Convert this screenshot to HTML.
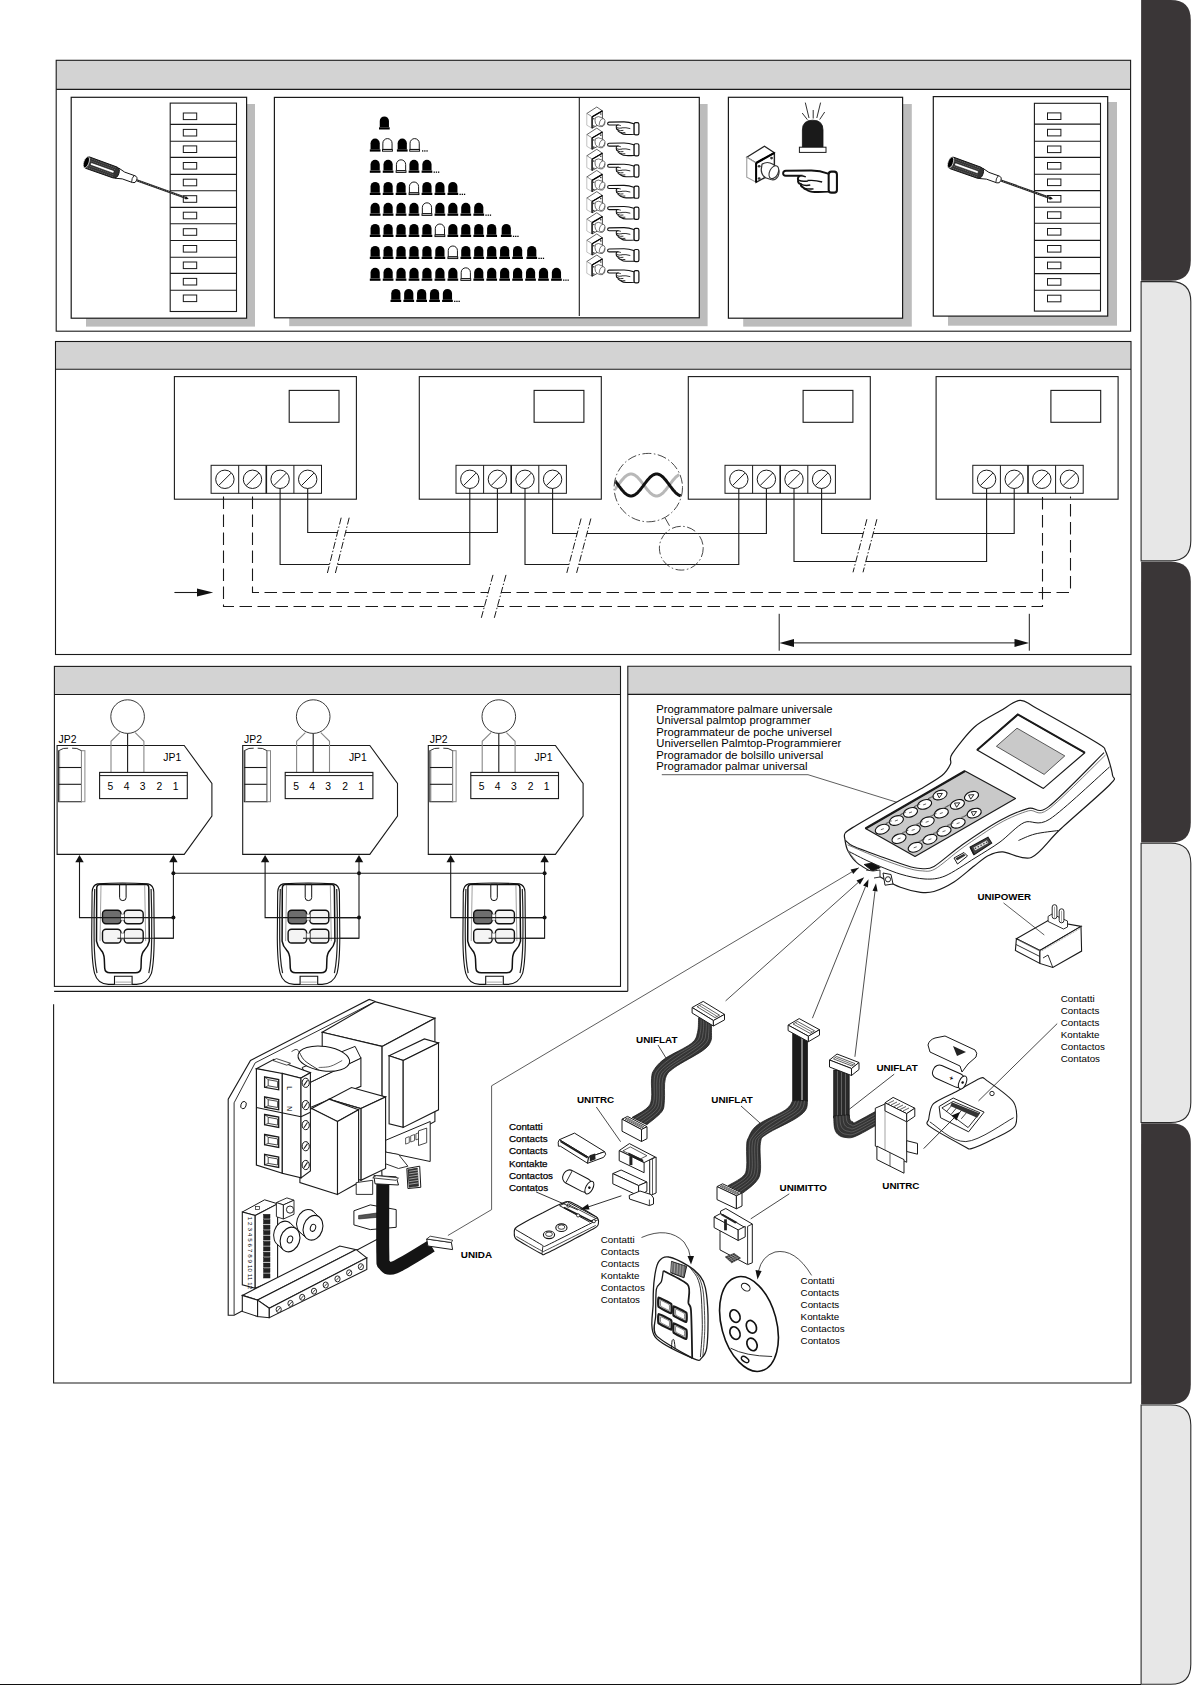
<!DOCTYPE html>
<html><head><meta charset="utf-8"><style>
html,body{margin:0;padding:0;background:#fff;}
body{width:1192px;height:1685px;overflow:hidden;}
svg{display:block;font-family:"Liberation Sans",sans-serif;}
</style></head><body>
<svg width="1192" height="1685" viewBox="0 0 1192 1685">
<path d="M1141.1,0.0 H1170.8 Q1190.8,0.0 1190.8,20.0 V260.8333333333333 Q1190.8,280.8333333333333 1170.8,280.8333333333333 H1141.1 Z" fill="#3a3637" stroke="none" stroke-width="1" />
<path d="M1141.1,281.6333333333333 H1170.8 Q1190.8,281.6333333333333 1190.8,301.6333333333333 V540.8666666666667 Q1190.8,560.8666666666667 1170.8,560.8666666666667 H1141.1 Z" fill="#e7e7e7" stroke="#2a2a2a" stroke-width="1.1" />
<path d="M1141.1,561.6666666666666 H1170.8 Q1190.8,561.6666666666666 1190.8,581.6666666666666 V822.5 Q1190.8,842.5 1170.8,842.5 H1141.1 Z" fill="#3a3637" stroke="none" stroke-width="1" />
<path d="M1141.1,843.3 H1170.8 Q1190.8,843.3 1190.8,863.3 V1102.5333333333333 Q1190.8,1122.5333333333333 1170.8,1122.5333333333333 H1141.1 Z" fill="#e7e7e7" stroke="#2a2a2a" stroke-width="1.1" />
<path d="M1141.1,1123.3333333333333 H1170.8 Q1190.8,1123.3333333333333 1190.8,1143.3333333333333 V1384.1666666666665 Q1190.8,1404.1666666666665 1170.8,1404.1666666666665 H1141.1 Z" fill="#3a3637" stroke="none" stroke-width="1" />
<path d="M1141.1,1404.9666666666665 H1170.8 Q1190.8,1404.9666666666665 1190.8,1424.9666666666665 V1664.1999999999998 Q1190.8,1684.1999999999998 1170.8,1684.1999999999998 H1141.1 Z" fill="#e7e7e7" stroke="#2a2a2a" stroke-width="1.1" />
<line x1="0.0" y1="1684.5" x2="1141.0" y2="1684.5" stroke="#111" stroke-width="1.2" />
<rect x="56.2" y="60.3" width="1074.4" height="29.1" fill="#d3d3d3" stroke="none" stroke-width="1" />
<rect x="56.2" y="60.3" width="1074.4" height="270.9" fill="none" stroke="#1a1a1a" stroke-width="1.1" />
<line x1="56.2" y1="89.4" x2="1130.6" y2="89.4" stroke="#1a1a1a" stroke-width="1.1" />
<rect x="55.5" y="341.5" width="1075.5" height="27.8" fill="#d3d3d3" stroke="none" stroke-width="1" />
<rect x="55.5" y="341.5" width="1075.5" height="313.0" fill="none" stroke="#1a1a1a" stroke-width="1.1" />
<line x1="55.5" y1="369.3" x2="1131.0" y2="369.3" stroke="#1a1a1a" stroke-width="1.1" />
<rect x="54.4" y="666.4" width="566.1" height="28.1" fill="#d3d3d3" stroke="none" stroke-width="1" />
<rect x="54.4" y="666.4" width="566.1" height="320.0" fill="none" stroke="#1a1a1a" stroke-width="1.1" />
<line x1="54.4" y1="694.5" x2="620.5" y2="694.5" stroke="#1a1a1a" stroke-width="1.1" />
<rect x="627.8" y="666.2" width="503.2" height="28.2" fill="#d3d3d3" stroke="none" stroke-width="1" />
<path d="M627.8,991.3 V666.2 H1131 V1383 H53.6 V1004.2" fill="none" stroke="#1a1a1a" stroke-width="1.1" />
<line x1="627.8" y1="694.4" x2="1131.0" y2="694.4" stroke="#1a1a1a" stroke-width="1.1" />
<line x1="54.1" y1="991.4" x2="627.8" y2="991.4" stroke="#1a1a1a" stroke-width="1.1" />
<rect x="86.0" y="104.0" width="169.0" height="222.6" fill="#bcbcbc" stroke="none" stroke-width="1" />
<rect x="71.2" y="97.3" width="175.4" height="220.9" fill="#fff" stroke="#1a1a1a" stroke-width="1.2" />
<rect x="289.2" y="104.0" width="418.4" height="222.2" fill="#bcbcbc" stroke="none" stroke-width="1" />
<rect x="274.4" y="97.4" width="424.9" height="220.4" fill="#fff" stroke="#1a1a1a" stroke-width="1.2" />
<rect x="743.2" y="104.0" width="168.6" height="222.6" fill="#bcbcbc" stroke="none" stroke-width="1" />
<rect x="728.4" y="97.3" width="174.2" height="220.9" fill="#fff" stroke="#1a1a1a" stroke-width="1.2" />
<rect x="948.0" y="102.0" width="169.0" height="223.7" fill="#bcbcbc" stroke="none" stroke-width="1" />
<rect x="933.3" y="96.6" width="174.4" height="219.5" fill="#fff" stroke="#1a1a1a" stroke-width="1.2" />
<line x1="579.3" y1="97.4" x2="579.3" y2="316.0" stroke="#1a1a1a" stroke-width="1.1" />
<rect x="170.2" y="103.1" width="66.3" height="208.4" fill="#fff" stroke="#1a1a1a" stroke-width="1.1" />
<line x1="170.2" y1="124.4" x2="236.5" y2="124.4" stroke="#1a1a1a" stroke-width="1.1" />
<line x1="170.2" y1="141.2" x2="236.5" y2="141.2" stroke="#1a1a1a" stroke-width="1.1" />
<line x1="170.2" y1="157.4" x2="236.5" y2="157.4" stroke="#1a1a1a" stroke-width="1.1" />
<line x1="170.2" y1="174.4" x2="236.5" y2="174.4" stroke="#1a1a1a" stroke-width="1.1" />
<line x1="170.2" y1="190.7" x2="236.5" y2="190.7" stroke="#1a1a1a" stroke-width="1.1" />
<line x1="170.2" y1="207.4" x2="236.5" y2="207.4" stroke="#1a1a1a" stroke-width="1.1" />
<line x1="170.2" y1="223.7" x2="236.5" y2="223.7" stroke="#1a1a1a" stroke-width="1.1" />
<line x1="170.2" y1="240.5" x2="236.5" y2="240.5" stroke="#1a1a1a" stroke-width="1.1" />
<line x1="170.2" y1="257.3" x2="236.5" y2="257.3" stroke="#1a1a1a" stroke-width="1.1" />
<line x1="170.2" y1="273.4" x2="236.5" y2="273.4" stroke="#1a1a1a" stroke-width="1.1" />
<line x1="170.2" y1="290.2" x2="236.5" y2="290.2" stroke="#1a1a1a" stroke-width="1.1" />
<rect x="183.3" y="113.0" width="13.4" height="6.6" fill="none" stroke="#1a1a1a" stroke-width="1" />
<rect x="183.3" y="129.4" width="13.4" height="6.6" fill="none" stroke="#1a1a1a" stroke-width="1" />
<rect x="183.3" y="145.9" width="13.4" height="6.6" fill="none" stroke="#1a1a1a" stroke-width="1" />
<rect x="183.3" y="162.5" width="13.4" height="6.6" fill="none" stroke="#1a1a1a" stroke-width="1" />
<rect x="183.3" y="179.2" width="13.4" height="6.6" fill="none" stroke="#1a1a1a" stroke-width="1" />
<rect x="183.3" y="195.7" width="13.4" height="6.6" fill="none" stroke="#1a1a1a" stroke-width="1" />
<rect x="183.3" y="212.2" width="13.4" height="6.6" fill="none" stroke="#1a1a1a" stroke-width="1" />
<rect x="183.3" y="228.7" width="13.4" height="6.6" fill="none" stroke="#1a1a1a" stroke-width="1" />
<rect x="183.3" y="245.5" width="13.4" height="6.6" fill="none" stroke="#1a1a1a" stroke-width="1" />
<rect x="183.3" y="262.0" width="13.4" height="6.6" fill="none" stroke="#1a1a1a" stroke-width="1" />
<rect x="183.3" y="278.4" width="13.4" height="6.6" fill="none" stroke="#1a1a1a" stroke-width="1" />
<rect x="183.3" y="295.0" width="13.4" height="6.6" fill="none" stroke="#1a1a1a" stroke-width="1" />
<rect x="1034.4" y="103.3" width="66.1" height="207.8" fill="#fff" stroke="#1a1a1a" stroke-width="1.1" />
<line x1="1034.4" y1="124.1" x2="1100.5" y2="124.1" stroke="#1a1a1a" stroke-width="1.1" />
<line x1="1034.4" y1="141.3" x2="1100.5" y2="141.3" stroke="#1a1a1a" stroke-width="1.1" />
<line x1="1034.4" y1="157.4" x2="1100.5" y2="157.4" stroke="#1a1a1a" stroke-width="1.1" />
<line x1="1034.4" y1="174.3" x2="1100.5" y2="174.3" stroke="#1a1a1a" stroke-width="1.1" />
<line x1="1034.4" y1="190.6" x2="1100.5" y2="190.6" stroke="#1a1a1a" stroke-width="1.1" />
<line x1="1034.4" y1="207.2" x2="1100.5" y2="207.2" stroke="#1a1a1a" stroke-width="1.1" />
<line x1="1034.4" y1="223.3" x2="1100.5" y2="223.3" stroke="#1a1a1a" stroke-width="1.1" />
<line x1="1034.4" y1="240.4" x2="1100.5" y2="240.4" stroke="#1a1a1a" stroke-width="1.1" />
<line x1="1034.4" y1="257.4" x2="1100.5" y2="257.4" stroke="#1a1a1a" stroke-width="1.1" />
<line x1="1034.4" y1="273.6" x2="1100.5" y2="273.6" stroke="#1a1a1a" stroke-width="1.1" />
<line x1="1034.4" y1="290.3" x2="1100.5" y2="290.3" stroke="#1a1a1a" stroke-width="1.1" />
<rect x="1047.5" y="112.9" width="13.4" height="6.6" fill="none" stroke="#1a1a1a" stroke-width="1" />
<rect x="1047.5" y="129.3" width="13.4" height="6.6" fill="none" stroke="#1a1a1a" stroke-width="1" />
<rect x="1047.5" y="146.0" width="13.4" height="6.6" fill="none" stroke="#1a1a1a" stroke-width="1" />
<rect x="1047.5" y="162.5" width="13.4" height="6.6" fill="none" stroke="#1a1a1a" stroke-width="1" />
<rect x="1047.5" y="179.0" width="13.4" height="6.6" fill="none" stroke="#1a1a1a" stroke-width="1" />
<rect x="1047.5" y="195.5" width="13.4" height="6.6" fill="none" stroke="#1a1a1a" stroke-width="1" />
<rect x="1047.5" y="211.8" width="13.4" height="6.6" fill="none" stroke="#1a1a1a" stroke-width="1" />
<rect x="1047.5" y="228.5" width="13.4" height="6.6" fill="none" stroke="#1a1a1a" stroke-width="1" />
<rect x="1047.5" y="245.5" width="13.4" height="6.6" fill="none" stroke="#1a1a1a" stroke-width="1" />
<rect x="1047.5" y="262.1" width="13.4" height="6.6" fill="none" stroke="#1a1a1a" stroke-width="1" />
<rect x="1047.5" y="278.6" width="13.4" height="6.6" fill="none" stroke="#1a1a1a" stroke-width="1" />
<rect x="1047.5" y="295.2" width="13.4" height="6.6" fill="none" stroke="#1a1a1a" stroke-width="1" />
<g transform="translate(85.8,162.0) rotate(19.71)"><line x1="54" y1="0" x2="107.4" y2="0" stroke="#222" stroke-width="2.3"/><line x1="54" y1="0" x2="107.4" y2="0" stroke="#999" stroke-width="0.7" stroke-dasharray="1 1.4"/><path d="M105.9,-1.6 L109.4,0 L105.9,1.6Z" fill="#111"/><path d="M33,-5.4 L40,-3.6 L51,-3.6 Q54,-3.6 54,0 Q54,3.6 51,3.6 L40,3.6 L33,5.4Z" fill="#fff" stroke="#111" stroke-width="0.9"/><path d="M50,-3.6 Q48.5,0 50,3.6" fill="none" stroke="#111" stroke-width="0.8"/><path d="M2,-6 L31,-5.8 Q35,-5.6 35,0 Q35,5.6 31,5.8 L2,6 Q-1.5,6 -1.5,0 Q-1.5,-6 2,-6Z" fill="#333" stroke="#111" stroke-width="0.9"/><path d="M3,-4.8 L31,-4.6 M3,4.8 L31,4.6 M3,-2.6 H31 M3,2.6 H31" stroke="#888" stroke-width="0.5" stroke-dasharray="1.2 0.8"/><rect x="5" y="-1.3" width="25" height="2.6" rx="1.3" fill="#fff" stroke="#111" stroke-width="0.5"/><ellipse cx="0.6" cy="0" rx="2.6" ry="5.8" fill="#000" stroke="#fff" stroke-width="0.7"/></g>
<g transform="translate(950.0,162.3) rotate(19.66)"><line x1="54" y1="0" x2="107.4" y2="0" stroke="#222" stroke-width="2.3"/><line x1="54" y1="0" x2="107.4" y2="0" stroke="#999" stroke-width="0.7" stroke-dasharray="1 1.4"/><path d="M105.9,-1.6 L109.4,0 L105.9,1.6Z" fill="#111"/><path d="M33,-5.4 L40,-3.6 L51,-3.6 Q54,-3.6 54,0 Q54,3.6 51,3.6 L40,3.6 L33,5.4Z" fill="#fff" stroke="#111" stroke-width="0.9"/><path d="M50,-3.6 Q48.5,0 50,3.6" fill="none" stroke="#111" stroke-width="0.8"/><path d="M2,-6 L31,-5.8 Q35,-5.6 35,0 Q35,5.6 31,5.8 L2,6 Q-1.5,6 -1.5,0 Q-1.5,-6 2,-6Z" fill="#333" stroke="#111" stroke-width="0.9"/><path d="M3,-4.8 L31,-4.6 M3,4.8 L31,4.6 M3,-2.6 H31 M3,2.6 H31" stroke="#888" stroke-width="0.5" stroke-dasharray="1.2 0.8"/><rect x="5" y="-1.3" width="25" height="2.6" rx="1.3" fill="#fff" stroke="#111" stroke-width="0.5"/><ellipse cx="0.6" cy="0" rx="2.6" ry="5.8" fill="#000" stroke="#fff" stroke-width="0.7"/></g>
<path d="M379.75,127.30 V121.10 A4.60,4.60 0 0 1 388.95,121.10 V127.30 Z" fill="#000"/>
<rect x="379.00" y="127.30" width="10.70" height="2.20" fill="#000"/>
<path d="M370.55,149.40 V143.20 A4.60,4.60 0 0 1 379.75,143.20 V149.40 Z" fill="#000"/>
<rect x="369.80" y="149.40" width="10.70" height="2.20" fill="#000"/>
<path d="M382.85,149.40 V143.20 A4.60,4.60 0 0 1 392.05,143.20 V149.40 Z" fill="#fff" stroke="#000" stroke-width="0.9"/>
<rect x="382.50" y="149.60" width="9.90" height="1.60" fill="#fff" stroke="#000" stroke-width="0.9"/>
<path d="M397.65,149.40 V143.20 A4.60,4.60 0 0 1 406.85,143.20 V149.40 Z" fill="#000"/>
<rect x="396.90" y="149.40" width="10.70" height="2.20" fill="#000"/>
<path d="M410.05,149.40 V143.20 A4.60,4.60 0 0 1 419.25,143.20 V149.40 Z" fill="#fff" stroke="#000" stroke-width="0.9"/>
<rect x="409.70" y="149.60" width="9.90" height="1.60" fill="#fff" stroke="#000" stroke-width="0.9"/>
<rect x="422.0" y="150.3" width="1.3" height="1.3" fill="#000"/>
<rect x="424.2" y="150.3" width="1.3" height="1.3" fill="#000"/>
<rect x="426.4" y="150.3" width="1.3" height="1.3" fill="#000"/>
<path d="M370.55,170.60 V164.40 A4.60,4.60 0 0 1 379.75,164.40 V170.60 Z" fill="#000"/>
<rect x="369.80" y="170.60" width="10.70" height="2.20" fill="#000"/>
<path d="M383.50,170.60 V164.40 A4.60,4.60 0 0 1 392.70,164.40 V170.60 Z" fill="#000"/>
<rect x="382.75" y="170.60" width="10.70" height="2.20" fill="#000"/>
<path d="M396.45,170.60 V164.40 A4.60,4.60 0 0 1 405.65,164.40 V170.60 Z" fill="#fff" stroke="#000" stroke-width="0.9"/>
<rect x="396.10" y="170.80" width="9.90" height="1.60" fill="#fff" stroke="#000" stroke-width="0.9"/>
<path d="M409.40,170.60 V164.40 A4.60,4.60 0 0 1 418.60,164.40 V170.60 Z" fill="#000"/>
<rect x="408.65" y="170.60" width="10.70" height="2.20" fill="#000"/>
<path d="M422.35,170.60 V164.40 A4.60,4.60 0 0 1 431.55,164.40 V170.60 Z" fill="#000"/>
<rect x="421.60" y="170.60" width="10.70" height="2.20" fill="#000"/>
<rect x="433.6" y="171.5" width="1.3" height="1.3" fill="#000"/>
<rect x="435.8" y="171.5" width="1.3" height="1.3" fill="#000"/>
<rect x="438.0" y="171.5" width="1.3" height="1.3" fill="#000"/>
<path d="M370.55,192.80 V186.60 A4.60,4.60 0 0 1 379.75,186.60 V192.80 Z" fill="#000"/>
<rect x="369.80" y="192.80" width="10.70" height="2.20" fill="#000"/>
<path d="M383.50,192.80 V186.60 A4.60,4.60 0 0 1 392.70,186.60 V192.80 Z" fill="#000"/>
<rect x="382.75" y="192.80" width="10.70" height="2.20" fill="#000"/>
<path d="M396.45,192.80 V186.60 A4.60,4.60 0 0 1 405.65,186.60 V192.80 Z" fill="#000"/>
<rect x="395.70" y="192.80" width="10.70" height="2.20" fill="#000"/>
<path d="M409.40,192.80 V186.60 A4.60,4.60 0 0 1 418.60,186.60 V192.80 Z" fill="#fff" stroke="#000" stroke-width="0.9"/>
<rect x="409.05" y="193.00" width="9.90" height="1.60" fill="#fff" stroke="#000" stroke-width="0.9"/>
<path d="M422.35,192.80 V186.60 A4.60,4.60 0 0 1 431.55,186.60 V192.80 Z" fill="#000"/>
<rect x="421.60" y="192.80" width="10.70" height="2.20" fill="#000"/>
<path d="M435.30,192.80 V186.60 A4.60,4.60 0 0 1 444.50,186.60 V192.80 Z" fill="#000"/>
<rect x="434.55" y="192.80" width="10.70" height="2.20" fill="#000"/>
<path d="M448.25,192.80 V186.60 A4.60,4.60 0 0 1 457.45,186.60 V192.80 Z" fill="#000"/>
<rect x="447.50" y="192.80" width="10.70" height="2.20" fill="#000"/>
<rect x="459.5" y="193.7" width="1.3" height="1.3" fill="#000"/>
<rect x="461.7" y="193.7" width="1.3" height="1.3" fill="#000"/>
<rect x="463.9" y="193.7" width="1.3" height="1.3" fill="#000"/>
<path d="M370.55,213.60 V207.40 A4.60,4.60 0 0 1 379.75,207.40 V213.60 Z" fill="#000"/>
<rect x="369.80" y="213.60" width="10.70" height="2.20" fill="#000"/>
<path d="M383.50,213.60 V207.40 A4.60,4.60 0 0 1 392.70,207.40 V213.60 Z" fill="#000"/>
<rect x="382.75" y="213.60" width="10.70" height="2.20" fill="#000"/>
<path d="M396.45,213.60 V207.40 A4.60,4.60 0 0 1 405.65,207.40 V213.60 Z" fill="#000"/>
<rect x="395.70" y="213.60" width="10.70" height="2.20" fill="#000"/>
<path d="M409.40,213.60 V207.40 A4.60,4.60 0 0 1 418.60,207.40 V213.60 Z" fill="#000"/>
<rect x="408.65" y="213.60" width="10.70" height="2.20" fill="#000"/>
<path d="M422.35,213.60 V207.40 A4.60,4.60 0 0 1 431.55,207.40 V213.60 Z" fill="#fff" stroke="#000" stroke-width="0.9"/>
<rect x="422.00" y="213.80" width="9.90" height="1.60" fill="#fff" stroke="#000" stroke-width="0.9"/>
<path d="M435.30,213.60 V207.40 A4.60,4.60 0 0 1 444.50,207.40 V213.60 Z" fill="#000"/>
<rect x="434.55" y="213.60" width="10.70" height="2.20" fill="#000"/>
<path d="M448.25,213.60 V207.40 A4.60,4.60 0 0 1 457.45,207.40 V213.60 Z" fill="#000"/>
<rect x="447.50" y="213.60" width="10.70" height="2.20" fill="#000"/>
<path d="M461.20,213.60 V207.40 A4.60,4.60 0 0 1 470.40,207.40 V213.60 Z" fill="#000"/>
<rect x="460.45" y="213.60" width="10.70" height="2.20" fill="#000"/>
<path d="M474.15,213.60 V207.40 A4.60,4.60 0 0 1 483.35,207.40 V213.60 Z" fill="#000"/>
<rect x="473.40" y="213.60" width="10.70" height="2.20" fill="#000"/>
<rect x="485.4" y="214.5" width="1.3" height="1.3" fill="#000"/>
<rect x="487.6" y="214.5" width="1.3" height="1.3" fill="#000"/>
<rect x="489.8" y="214.5" width="1.3" height="1.3" fill="#000"/>
<path d="M370.55,234.80 V228.60 A4.60,4.60 0 0 1 379.75,228.60 V234.80 Z" fill="#000"/>
<rect x="369.80" y="234.80" width="10.70" height="2.20" fill="#000"/>
<path d="M383.50,234.80 V228.60 A4.60,4.60 0 0 1 392.70,228.60 V234.80 Z" fill="#000"/>
<rect x="382.75" y="234.80" width="10.70" height="2.20" fill="#000"/>
<path d="M396.45,234.80 V228.60 A4.60,4.60 0 0 1 405.65,228.60 V234.80 Z" fill="#000"/>
<rect x="395.70" y="234.80" width="10.70" height="2.20" fill="#000"/>
<path d="M409.40,234.80 V228.60 A4.60,4.60 0 0 1 418.60,228.60 V234.80 Z" fill="#000"/>
<rect x="408.65" y="234.80" width="10.70" height="2.20" fill="#000"/>
<path d="M422.35,234.80 V228.60 A4.60,4.60 0 0 1 431.55,228.60 V234.80 Z" fill="#000"/>
<rect x="421.60" y="234.80" width="10.70" height="2.20" fill="#000"/>
<path d="M435.30,234.80 V228.60 A4.60,4.60 0 0 1 444.50,228.60 V234.80 Z" fill="#fff" stroke="#000" stroke-width="0.9"/>
<rect x="434.95" y="235.00" width="9.90" height="1.60" fill="#fff" stroke="#000" stroke-width="0.9"/>
<path d="M448.25,234.80 V228.60 A4.60,4.60 0 0 1 457.45,228.60 V234.80 Z" fill="#000"/>
<rect x="447.50" y="234.80" width="10.70" height="2.20" fill="#000"/>
<path d="M461.20,234.80 V228.60 A4.60,4.60 0 0 1 470.40,228.60 V234.80 Z" fill="#000"/>
<rect x="460.45" y="234.80" width="10.70" height="2.20" fill="#000"/>
<path d="M474.15,234.80 V228.60 A4.60,4.60 0 0 1 483.35,228.60 V234.80 Z" fill="#000"/>
<rect x="473.40" y="234.80" width="10.70" height="2.20" fill="#000"/>
<path d="M487.10,234.80 V228.60 A4.60,4.60 0 0 1 496.30,228.60 V234.80 Z" fill="#000"/>
<rect x="486.35" y="234.80" width="10.70" height="2.20" fill="#000"/>
<path d="M501.65,234.80 V228.60 A4.60,4.60 0 0 1 510.85,228.60 V234.80 Z" fill="#000"/>
<rect x="500.90" y="234.80" width="10.70" height="2.20" fill="#000"/>
<rect x="512.9" y="235.7" width="1.3" height="1.3" fill="#000"/>
<rect x="515.1" y="235.7" width="1.3" height="1.3" fill="#000"/>
<rect x="517.3" y="235.7" width="1.3" height="1.3" fill="#000"/>
<path d="M370.55,256.80 V250.60 A4.60,4.60 0 0 1 379.75,250.60 V256.80 Z" fill="#000"/>
<rect x="369.80" y="256.80" width="10.70" height="2.20" fill="#000"/>
<path d="M383.50,256.80 V250.60 A4.60,4.60 0 0 1 392.70,250.60 V256.80 Z" fill="#000"/>
<rect x="382.75" y="256.80" width="10.70" height="2.20" fill="#000"/>
<path d="M396.45,256.80 V250.60 A4.60,4.60 0 0 1 405.65,250.60 V256.80 Z" fill="#000"/>
<rect x="395.70" y="256.80" width="10.70" height="2.20" fill="#000"/>
<path d="M409.40,256.80 V250.60 A4.60,4.60 0 0 1 418.60,250.60 V256.80 Z" fill="#000"/>
<rect x="408.65" y="256.80" width="10.70" height="2.20" fill="#000"/>
<path d="M422.35,256.80 V250.60 A4.60,4.60 0 0 1 431.55,250.60 V256.80 Z" fill="#000"/>
<rect x="421.60" y="256.80" width="10.70" height="2.20" fill="#000"/>
<path d="M435.30,256.80 V250.60 A4.60,4.60 0 0 1 444.50,250.60 V256.80 Z" fill="#000"/>
<rect x="434.55" y="256.80" width="10.70" height="2.20" fill="#000"/>
<path d="M448.25,256.80 V250.60 A4.60,4.60 0 0 1 457.45,250.60 V256.80 Z" fill="#fff" stroke="#000" stroke-width="0.9"/>
<rect x="447.90" y="257.00" width="9.90" height="1.60" fill="#fff" stroke="#000" stroke-width="0.9"/>
<path d="M461.20,256.80 V250.60 A4.60,4.60 0 0 1 470.40,250.60 V256.80 Z" fill="#000"/>
<rect x="460.45" y="256.80" width="10.70" height="2.20" fill="#000"/>
<path d="M474.15,256.80 V250.60 A4.60,4.60 0 0 1 483.35,250.60 V256.80 Z" fill="#000"/>
<rect x="473.40" y="256.80" width="10.70" height="2.20" fill="#000"/>
<path d="M487.10,256.80 V250.60 A4.60,4.60 0 0 1 496.30,250.60 V256.80 Z" fill="#000"/>
<rect x="486.35" y="256.80" width="10.70" height="2.20" fill="#000"/>
<path d="M500.05,256.80 V250.60 A4.60,4.60 0 0 1 509.25,250.60 V256.80 Z" fill="#000"/>
<rect x="499.30" y="256.80" width="10.70" height="2.20" fill="#000"/>
<path d="M513.00,256.80 V250.60 A4.60,4.60 0 0 1 522.20,250.60 V256.80 Z" fill="#000"/>
<rect x="512.25" y="256.80" width="10.70" height="2.20" fill="#000"/>
<path d="M527.15,256.80 V250.60 A4.60,4.60 0 0 1 536.35,250.60 V256.80 Z" fill="#000"/>
<rect x="526.40" y="256.80" width="10.70" height="2.20" fill="#000"/>
<rect x="538.4" y="257.7" width="1.3" height="1.3" fill="#000"/>
<rect x="540.6" y="257.7" width="1.3" height="1.3" fill="#000"/>
<rect x="542.8" y="257.7" width="1.3" height="1.3" fill="#000"/>
<path d="M370.55,278.60 V272.40 A4.60,4.60 0 0 1 379.75,272.40 V278.60 Z" fill="#000"/>
<rect x="369.80" y="278.60" width="10.70" height="2.20" fill="#000"/>
<path d="M383.50,278.60 V272.40 A4.60,4.60 0 0 1 392.70,272.40 V278.60 Z" fill="#000"/>
<rect x="382.75" y="278.60" width="10.70" height="2.20" fill="#000"/>
<path d="M396.45,278.60 V272.40 A4.60,4.60 0 0 1 405.65,272.40 V278.60 Z" fill="#000"/>
<rect x="395.70" y="278.60" width="10.70" height="2.20" fill="#000"/>
<path d="M409.40,278.60 V272.40 A4.60,4.60 0 0 1 418.60,272.40 V278.60 Z" fill="#000"/>
<rect x="408.65" y="278.60" width="10.70" height="2.20" fill="#000"/>
<path d="M422.35,278.60 V272.40 A4.60,4.60 0 0 1 431.55,272.40 V278.60 Z" fill="#000"/>
<rect x="421.60" y="278.60" width="10.70" height="2.20" fill="#000"/>
<path d="M435.30,278.60 V272.40 A4.60,4.60 0 0 1 444.50,272.40 V278.60 Z" fill="#000"/>
<rect x="434.55" y="278.60" width="10.70" height="2.20" fill="#000"/>
<path d="M448.25,278.60 V272.40 A4.60,4.60 0 0 1 457.45,272.40 V278.60 Z" fill="#000"/>
<rect x="447.50" y="278.60" width="10.70" height="2.20" fill="#000"/>
<path d="M461.20,278.60 V272.40 A4.60,4.60 0 0 1 470.40,272.40 V278.60 Z" fill="#fff" stroke="#000" stroke-width="0.9"/>
<rect x="460.85" y="278.80" width="9.90" height="1.60" fill="#fff" stroke="#000" stroke-width="0.9"/>
<path d="M474.15,278.60 V272.40 A4.60,4.60 0 0 1 483.35,272.40 V278.60 Z" fill="#000"/>
<rect x="473.40" y="278.60" width="10.70" height="2.20" fill="#000"/>
<path d="M487.10,278.60 V272.40 A4.60,4.60 0 0 1 496.30,272.40 V278.60 Z" fill="#000"/>
<rect x="486.35" y="278.60" width="10.70" height="2.20" fill="#000"/>
<path d="M500.05,278.60 V272.40 A4.60,4.60 0 0 1 509.25,272.40 V278.60 Z" fill="#000"/>
<rect x="499.30" y="278.60" width="10.70" height="2.20" fill="#000"/>
<path d="M513.00,278.60 V272.40 A4.60,4.60 0 0 1 522.20,272.40 V278.60 Z" fill="#000"/>
<rect x="512.25" y="278.60" width="10.70" height="2.20" fill="#000"/>
<path d="M525.95,278.60 V272.40 A4.60,4.60 0 0 1 535.15,272.40 V278.60 Z" fill="#000"/>
<rect x="525.20" y="278.60" width="10.70" height="2.20" fill="#000"/>
<path d="M538.90,278.60 V272.40 A4.60,4.60 0 0 1 548.10,272.40 V278.60 Z" fill="#000"/>
<rect x="538.15" y="278.60" width="10.70" height="2.20" fill="#000"/>
<path d="M551.85,278.60 V272.40 A4.60,4.60 0 0 1 561.05,272.40 V278.60 Z" fill="#000"/>
<rect x="551.10" y="278.60" width="10.70" height="2.20" fill="#000"/>
<rect x="563.1" y="279.5" width="1.3" height="1.3" fill="#000"/>
<rect x="565.3" y="279.5" width="1.3" height="1.3" fill="#000"/>
<rect x="567.5" y="279.5" width="1.3" height="1.3" fill="#000"/>
<path d="M391.25,299.80 V293.60 A4.60,4.60 0 0 1 400.45,293.60 V299.80 Z" fill="#000"/>
<rect x="390.50" y="299.80" width="10.70" height="2.20" fill="#000"/>
<path d="M404.15,299.80 V293.60 A4.60,4.60 0 0 1 413.35,293.60 V299.80 Z" fill="#000"/>
<rect x="403.40" y="299.80" width="10.70" height="2.20" fill="#000"/>
<path d="M417.05,299.80 V293.60 A4.60,4.60 0 0 1 426.25,293.60 V299.80 Z" fill="#000"/>
<rect x="416.30" y="299.80" width="10.70" height="2.20" fill="#000"/>
<path d="M429.95,299.80 V293.60 A4.60,4.60 0 0 1 439.15,293.60 V299.80 Z" fill="#000"/>
<rect x="429.20" y="299.80" width="10.70" height="2.20" fill="#000"/>
<path d="M442.85,299.80 V293.60 A4.60,4.60 0 0 1 452.05,293.60 V299.80 Z" fill="#000"/>
<rect x="442.10" y="299.80" width="10.70" height="2.20" fill="#000"/>
<rect x="454.1" y="300.7" width="1.3" height="1.3" fill="#000"/>
<rect x="456.3" y="300.7" width="1.3" height="1.3" fill="#000"/>
<rect x="458.5" y="300.7" width="1.3" height="1.3" fill="#000"/>
<defs><g id="bh"><path d="M1,7.5 L11,1 L16.6,4.9 L6.3,10.9Z" fill="#fff" stroke="#222" stroke-width="0.7"/><path d="M1,7.5 L6.3,10.9 L6.3,22.2 L1,19.2Z" fill="#fff" stroke="#999" stroke-width="0.6"/><path d="M6.3,10.9 L16.6,4.9 L16.6,16.5 L6.3,22.2Z" fill="#fff" stroke="#222" stroke-width="0.8"/><path d="M6.3,10.9 L16.6,4.9" stroke="#000" stroke-width="1.3"/><path d="M6.3,10.9 V22.2" stroke="#000" stroke-width="1.1"/><circle cx="8" cy="12.8" r="0.8" fill="#333"/><circle cx="8" cy="20" r="0.8" fill="#333"/><circle cx="15" cy="8" r="0.8" fill="#333"/><path d="M9.6,11.6 Q12.5,9.6 15.8,11.6 L18.3,13.6 Q20,15.8 18.6,18.8 Q17.2,21.3 14.6,20.6 L11.6,19.6 Q9,17.6 9.2,14.6Z" fill="#fff" stroke="#333" stroke-width="0.7"/><ellipse cx="16.3" cy="16.3" rx="2.4" ry="4" transform="rotate(25 16.3 16.3)" fill="#fff" stroke="#333" stroke-width="0.6"/><path d="M23.4,16.1 L37.7,15.9 Q43,15.8 48,17.7 L48.5,17.7 L48.5,28.2 Q44,28.5 40.3,28.4 Q37,28.2 35.7,27.2 Q33.8,26.5 33.6,25.9 Q31.8,25 32.2,23.9 Q30.2,23.3 30.5,21.5 Q30,20 31.5,19 L23.4,19 Q21.8,18.9 21.8,17.5 Q21.9,16.2 23.4,16.1Z" fill="#fff" stroke="#111" stroke-width="1.1"/><path d="M31.5,19 Q33.5,19 35,19.6 M30.8,21.6 Q33,22.6 36.2,22 M32.3,24 Q34.5,25 37.6,24.4 M34,26.2 Q36.5,27 39.5,26.6 M36,21.8 Q40,21.3 44.5,22.6" fill="none" stroke="#111" stroke-width="0.85"/><rect x="48.3" y="16.6" width="4.8" height="12.2" rx="1.6" fill="#fff" stroke="#111" stroke-width="1.2"/></g></defs>
<use href="#bh" x="585.8" y="106.00"/>
<use href="#bh" x="585.8" y="127.15"/>
<use href="#bh" x="585.8" y="148.30"/>
<use href="#bh" x="585.8" y="169.45"/>
<use href="#bh" x="585.8" y="190.60"/>
<use href="#bh" x="585.8" y="211.75"/>
<use href="#bh" x="585.8" y="232.90"/>
<use href="#bh" x="585.8" y="254.05"/>
<g transform="translate(745,144.5) scale(1.77,1.70)"><path d="M1,7.5 L11,1 L16.6,4.9 L6.3,10.9Z" fill="#fff" stroke="#222" stroke-width="0.7"/><path d="M1,7.5 L6.3,10.9 L6.3,22.2 L1,19.2Z" fill="#fff" stroke="#999" stroke-width="0.6"/><path d="M6.3,10.9 L16.6,4.9 L16.6,16.5 L6.3,22.2Z" fill="#fff" stroke="#222" stroke-width="0.8"/><path d="M6.3,10.9 L16.6,4.9" stroke="#000" stroke-width="1.3"/><path d="M6.3,10.9 V22.2" stroke="#000" stroke-width="1.1"/><circle cx="8" cy="12.8" r="0.8" fill="#333"/><circle cx="8" cy="20" r="0.8" fill="#333"/><circle cx="15" cy="8" r="0.8" fill="#333"/><path d="M9.6,11.6 Q12.5,9.6 15.8,11.6 L18.3,13.6 Q20,15.8 18.6,18.8 Q17.2,21.3 14.6,20.6 L11.6,19.6 Q9,17.6 9.2,14.6Z" fill="#fff" stroke="#333" stroke-width="0.7"/><ellipse cx="16.3" cy="16.3" rx="2.4" ry="4" transform="rotate(25 16.3 16.3)" fill="#fff" stroke="#333" stroke-width="0.6"/></g>
<g transform="translate(745.6,143.1) scale(1.72)"><path d="M23.4,16.1 L37.7,15.9 Q43,15.8 48,17.7 L48.5,17.7 L48.5,28.2 Q44,28.5 40.3,28.4 Q37,28.2 35.7,27.2 Q33.8,26.5 33.6,25.9 Q31.8,25 32.2,23.9 Q30.2,23.3 30.5,21.5 Q30,20 31.5,19 L23.4,19 Q21.8,18.9 21.8,17.5 Q21.9,16.2 23.4,16.1Z" fill="#fff" stroke="#111" stroke-width="1.1"/><path d="M31.5,19 Q33.5,19 35,19.6 M30.8,21.6 Q33,22.6 36.2,22 M32.3,24 Q34.5,25 37.6,24.4 M34,26.2 Q36.5,27 39.5,26.6 M36,21.8 Q40,21.3 44.5,22.6" fill="none" stroke="#111" stroke-width="0.85"/><rect x="48.3" y="16.6" width="4.8" height="12.2" rx="1.6" fill="#fff" stroke="#111" stroke-width="1.2"/></g>
<path d="M802.4,147.2 V130 Q802.4,120.2 812.7,120.2 Q823,120.2 823,130 V147.2Z" fill="#1a1a1a" stroke="#111" stroke-width="0.8" />
<rect x="799.4" y="147.2" width="26.6" height="5.2" fill="#fff" stroke="#1a1a1a" stroke-width="1" />
<line x1="805.3" y1="102.6" x2="809.0" y2="118.0" stroke="#1a1a1a" stroke-width="0.9" />
<line x1="820.6" y1="102.6" x2="816.8" y2="118.0" stroke="#1a1a1a" stroke-width="0.9" />
<line x1="802.2" y1="113.0" x2="807.4" y2="119.7" stroke="#1a1a1a" stroke-width="0.9" />
<line x1="824.7" y1="112.0" x2="819.7" y2="119.5" stroke="#1a1a1a" stroke-width="0.9" />
<line x1="813.2" y1="110.0" x2="813.2" y2="118.5" stroke="#1a1a1a" stroke-width="0.9" />
<rect x="174.4" y="376.6" width="182.0" height="122.6" fill="none" stroke="#1a1a1a" stroke-width="1.1" />
<rect x="289.2" y="390.4" width="49.8" height="31.9" fill="none" stroke="#1a1a1a" stroke-width="1.1" />
<rect x="211.1" y="465.3" width="110.4" height="28.0" fill="#fff" stroke="#1a1a1a" stroke-width="1" />
<line x1="238.7" y1="465.3" x2="238.7" y2="493.3" stroke="#1a1a1a" stroke-width="1" />
<line x1="266.3" y1="465.3" x2="266.3" y2="493.3" stroke="#1a1a1a" stroke-width="1.6" />
<line x1="293.9" y1="465.3" x2="293.9" y2="493.3" stroke="#1a1a1a" stroke-width="1" />
<circle cx="224.9" cy="479.3" r="9.2" fill="#fff" stroke="#1a1a1a" stroke-width="1"/>
<line x1="218.7" y1="485.5" x2="231.1" y2="473.1" stroke="#1a1a1a" stroke-width="1" />
<circle cx="252.5" cy="479.3" r="9.2" fill="#fff" stroke="#1a1a1a" stroke-width="1"/>
<line x1="246.3" y1="485.5" x2="258.7" y2="473.1" stroke="#1a1a1a" stroke-width="1" />
<circle cx="280.1" cy="479.3" r="9.2" fill="#fff" stroke="#1a1a1a" stroke-width="1"/>
<line x1="273.9" y1="485.5" x2="286.3" y2="473.1" stroke="#1a1a1a" stroke-width="1" />
<circle cx="307.7" cy="479.3" r="9.2" fill="#fff" stroke="#1a1a1a" stroke-width="1"/>
<line x1="301.5" y1="485.5" x2="313.9" y2="473.1" stroke="#1a1a1a" stroke-width="1" />
<rect x="419.3" y="376.6" width="182.0" height="122.6" fill="none" stroke="#1a1a1a" stroke-width="1.1" />
<rect x="534.1" y="390.4" width="49.8" height="31.9" fill="none" stroke="#1a1a1a" stroke-width="1.1" />
<rect x="456.0" y="465.3" width="110.4" height="28.0" fill="#fff" stroke="#1a1a1a" stroke-width="1" />
<line x1="483.6" y1="465.3" x2="483.6" y2="493.3" stroke="#1a1a1a" stroke-width="1" />
<line x1="511.2" y1="465.3" x2="511.2" y2="493.3" stroke="#1a1a1a" stroke-width="1.6" />
<line x1="538.8" y1="465.3" x2="538.8" y2="493.3" stroke="#1a1a1a" stroke-width="1" />
<circle cx="469.8" cy="479.3" r="9.2" fill="#fff" stroke="#1a1a1a" stroke-width="1"/>
<line x1="463.6" y1="485.5" x2="476.0" y2="473.1" stroke="#1a1a1a" stroke-width="1" />
<circle cx="497.4" cy="479.3" r="9.2" fill="#fff" stroke="#1a1a1a" stroke-width="1"/>
<line x1="491.2" y1="485.5" x2="503.6" y2="473.1" stroke="#1a1a1a" stroke-width="1" />
<circle cx="525.0" cy="479.3" r="9.2" fill="#fff" stroke="#1a1a1a" stroke-width="1"/>
<line x1="518.8" y1="485.5" x2="531.2" y2="473.1" stroke="#1a1a1a" stroke-width="1" />
<circle cx="552.6" cy="479.3" r="9.2" fill="#fff" stroke="#1a1a1a" stroke-width="1"/>
<line x1="546.4" y1="485.5" x2="558.8" y2="473.1" stroke="#1a1a1a" stroke-width="1" />
<rect x="688.3" y="376.6" width="182.0" height="122.6" fill="none" stroke="#1a1a1a" stroke-width="1.1" />
<rect x="803.1" y="390.4" width="49.8" height="31.9" fill="none" stroke="#1a1a1a" stroke-width="1.1" />
<rect x="725.0" y="465.3" width="110.4" height="28.0" fill="#fff" stroke="#1a1a1a" stroke-width="1" />
<line x1="752.6" y1="465.3" x2="752.6" y2="493.3" stroke="#1a1a1a" stroke-width="1" />
<line x1="780.2" y1="465.3" x2="780.2" y2="493.3" stroke="#1a1a1a" stroke-width="1.6" />
<line x1="807.8" y1="465.3" x2="807.8" y2="493.3" stroke="#1a1a1a" stroke-width="1" />
<circle cx="738.8" cy="479.3" r="9.2" fill="#fff" stroke="#1a1a1a" stroke-width="1"/>
<line x1="732.6" y1="485.5" x2="745.0" y2="473.1" stroke="#1a1a1a" stroke-width="1" />
<circle cx="766.4" cy="479.3" r="9.2" fill="#fff" stroke="#1a1a1a" stroke-width="1"/>
<line x1="760.2" y1="485.5" x2="772.6" y2="473.1" stroke="#1a1a1a" stroke-width="1" />
<circle cx="794.0" cy="479.3" r="9.2" fill="#fff" stroke="#1a1a1a" stroke-width="1"/>
<line x1="787.8" y1="485.5" x2="800.2" y2="473.1" stroke="#1a1a1a" stroke-width="1" />
<circle cx="821.6" cy="479.3" r="9.2" fill="#fff" stroke="#1a1a1a" stroke-width="1"/>
<line x1="815.4" y1="485.5" x2="827.8" y2="473.1" stroke="#1a1a1a" stroke-width="1" />
<rect x="936.1" y="376.6" width="182.0" height="122.6" fill="none" stroke="#1a1a1a" stroke-width="1.1" />
<rect x="1050.9" y="390.4" width="49.8" height="31.9" fill="none" stroke="#1a1a1a" stroke-width="1.1" />
<rect x="972.8" y="465.3" width="110.4" height="28.0" fill="#fff" stroke="#1a1a1a" stroke-width="1" />
<line x1="1000.4" y1="465.3" x2="1000.4" y2="493.3" stroke="#1a1a1a" stroke-width="1" />
<line x1="1028.0" y1="465.3" x2="1028.0" y2="493.3" stroke="#1a1a1a" stroke-width="1.6" />
<line x1="1055.6" y1="465.3" x2="1055.6" y2="493.3" stroke="#1a1a1a" stroke-width="1" />
<circle cx="986.6" cy="479.3" r="9.2" fill="#fff" stroke="#1a1a1a" stroke-width="1"/>
<line x1="980.4" y1="485.5" x2="992.8" y2="473.1" stroke="#1a1a1a" stroke-width="1" />
<circle cx="1014.2" cy="479.3" r="9.2" fill="#fff" stroke="#1a1a1a" stroke-width="1"/>
<line x1="1008.0" y1="485.5" x2="1020.4" y2="473.1" stroke="#1a1a1a" stroke-width="1" />
<circle cx="1041.8" cy="479.3" r="9.2" fill="#fff" stroke="#1a1a1a" stroke-width="1"/>
<line x1="1035.6" y1="485.5" x2="1048.0" y2="473.1" stroke="#1a1a1a" stroke-width="1" />
<circle cx="1069.4" cy="479.3" r="9.2" fill="#fff" stroke="#1a1a1a" stroke-width="1"/>
<line x1="1063.2" y1="485.5" x2="1075.6" y2="473.1" stroke="#1a1a1a" stroke-width="1" />
<polyline points="307.7,488.5 307.7,532.5 497.4,532.5 497.4,488.5" fill="none" stroke="#1a1a1a" stroke-width="1.1"  stroke-linejoin="miter"/>
<polyline points="280.1,488.5 280.1,564.5 469.8,564.5 469.8,488.5" fill="none" stroke="#1a1a1a" stroke-width="1.1"  stroke-linejoin="miter"/>
<polyline points="552.6,488.5 552.6,533.5 766.4,533.5 766.4,488.5" fill="none" stroke="#1a1a1a" stroke-width="1.1"  stroke-linejoin="miter"/>
<polyline points="525.0,488.5 525.0,564.5 738.8,564.5 738.8,488.5" fill="none" stroke="#1a1a1a" stroke-width="1.1"  stroke-linejoin="miter"/>
<polyline points="821.6,488.5 821.6,533.5 1014.2,533.5 1014.2,488.5" fill="none" stroke="#1a1a1a" stroke-width="1.1"  stroke-linejoin="miter"/>
<polyline points="794.0,488.5 794.0,561.5 986.6,561.5 986.6,488.5" fill="none" stroke="#1a1a1a" stroke-width="1.1"  stroke-linejoin="miter"/>
<polyline points="252.5,496.5 252.5,592.5 1070.5,592.5 1070.5,496.5" fill="none" stroke="#1a1a1a" stroke-width="1.1" stroke-dasharray="12.5 5.5" stroke-linejoin="miter"/>
<polyline points="223.5,496.5 223.5,606.5 1042.5,606.5 1042.5,496.5" fill="none" stroke="#1a1a1a" stroke-width="1.1" stroke-dasharray="12.5 5.5" stroke-linejoin="miter"/>
<rect x="337.5" y="531.0" width="8.0" height="3.0" fill="#fff" stroke="none" stroke-width="1" />
<rect x="329.5" y="563.0" width="8.0" height="3.0" fill="#fff" stroke="none" stroke-width="1" />
<line x1="341.2" y1="517.7" x2="327.4" y2="573.0" stroke="#1a1a1a" stroke-width="1" stroke-dasharray="7 2 1.5 2"/>
<line x1="349.2" y1="517.7" x2="335.4" y2="573.0" stroke="#1a1a1a" stroke-width="1" stroke-dasharray="7 2 1.5 2"/>
<rect x="577.2" y="532.0" width="9.8" height="3.0" fill="#fff" stroke="none" stroke-width="1" />
<rect x="569.0" y="563.0" width="9.8" height="3.0" fill="#fff" stroke="none" stroke-width="1" />
<line x1="581.1" y1="518.5" x2="566.8" y2="572.9" stroke="#1a1a1a" stroke-width="1" stroke-dasharray="7 2 1.5 2"/>
<line x1="590.9" y1="518.5" x2="576.6" y2="572.9" stroke="#1a1a1a" stroke-width="1" stroke-dasharray="7 2 1.5 2"/>
<rect x="863.2" y="532.0" width="10.0" height="3.0" fill="#fff" stroke="none" stroke-width="1" />
<rect x="855.8" y="560.0" width="10.0" height="3.0" fill="#fff" stroke="none" stroke-width="1" />
<line x1="866.9" y1="519.2" x2="853.0" y2="572.3" stroke="#1a1a1a" stroke-width="1" stroke-dasharray="7 2 1.5 2"/>
<line x1="876.9" y1="519.2" x2="863.0" y2="572.3" stroke="#1a1a1a" stroke-width="1" stroke-dasharray="7 2 1.5 2"/>
<rect x="488.2" y="591.0" width="13.0" height="3.0" fill="#fff" stroke="none" stroke-width="1" />
<rect x="484.4" y="605.0" width="13.0" height="3.0" fill="#fff" stroke="none" stroke-width="1" />
<line x1="493.0" y1="574.9" x2="481.2" y2="618.3" stroke="#1a1a1a" stroke-width="1" stroke-dasharray="7 2 1.5 2"/>
<line x1="506.0" y1="574.9" x2="494.2" y2="618.3" stroke="#1a1a1a" stroke-width="1" stroke-dasharray="7 2 1.5 2"/>
<line x1="174.4" y1="592.5" x2="206.0" y2="592.5" stroke="#1a1a1a" stroke-width="1.1" />
<path d="M197,588.4 L213.2,592.5 L197,596.6Z" fill="#111" stroke="none" stroke-width="1" />
<line x1="779.2" y1="613.8" x2="779.2" y2="650.7" stroke="#1a1a1a" stroke-width="1" />
<line x1="1029.3" y1="613.8" x2="1029.3" y2="650.7" stroke="#1a1a1a" stroke-width="1" />
<line x1="785.0" y1="642.9" x2="1023.5" y2="642.9" stroke="#1a1a1a" stroke-width="1" />
<path d="M779.5,642.9 L794,638.9 L794,646.9Z" fill="#111" stroke="none" stroke-width="1" />
<path d="M1029,642.9 L1014.5,638.9 L1014.5,646.9Z" fill="#111" stroke="none" stroke-width="1" />
<circle cx="648.3" cy="487.6" r="34.2" fill="#fff" stroke="#333" stroke-width="0.9" stroke-dasharray="9 2.5 1.5 2.5"/>
<circle cx="681.3" cy="548.2" r="21.9" fill="none" stroke="#333" stroke-width="0.9" stroke-dasharray="9 2.5 1.5 2.5"/>
<line x1="665.0" y1="517.8" x2="669.5" y2="525.8" stroke="#333" stroke-width="0.9" />
<clipPath id="cpw"><circle cx="648.3" cy="487.6" r="33.6"/></clipPath>
<g clip-path="url(#cpw)">
<polyline points="615.0,489.2 615.8,488.2 616.6,487.1 617.4,486.1 618.2,485.0 619.0,483.9 619.8,482.9 620.6,481.8 621.4,480.8 622.2,479.8 623.0,478.9 623.8,478.0 624.6,477.2 625.4,476.5 626.2,475.9 627.0,475.3 627.8,474.8 628.6,474.5 629.4,474.2 630.2,474.1 631.0,474.0 631.8,474.1 632.6,474.2 633.4,474.5 634.2,474.8 635.0,475.3 635.8,475.9 636.6,476.5 637.4,477.2 638.2,478.0 639.0,478.9 639.8,479.8 640.6,480.8 641.4,481.8 642.2,482.9 643.0,483.9 643.8,485.0 644.6,486.1 645.4,487.1 646.2,488.2 647.0,489.2 647.8,490.2 648.6,491.1 649.4,492.0 650.2,492.8 651.0,493.5 651.8,494.1 652.6,494.7 653.4,495.2 654.2,495.5 655.0,495.8 655.8,495.9 656.6,496.0 657.4,495.9 658.2,495.8 659.0,495.5 659.8,495.2 660.6,494.7 661.4,494.1 662.2,493.5 663.0,492.8 663.8,492.0 664.6,491.1 665.4,490.2 666.2,489.2 667.0,488.2 667.8,487.1 668.6,486.1 669.4,485.0 670.2,483.9 671.0,482.9 671.8,481.8 672.6,480.8 673.4,479.8 674.2,478.9 675.0,478.0 675.8,477.2 676.6,476.5 677.4,475.9 678.2,475.3 679.0,474.8 679.8,474.5 680.6,474.2 681.4,474.1" fill="none" stroke="#b8b8b8" stroke-width="3.0" stroke-linecap="round"/>
<polyline points="615.0,480.8 615.8,481.8 616.6,482.9 617.4,483.9 618.2,485.0 619.0,486.1 619.8,487.1 620.6,488.2 621.4,489.2 622.2,490.2 623.0,491.1 623.8,492.0 624.6,492.8 625.4,493.5 626.2,494.1 627.0,494.7 627.8,495.2 628.6,495.5 629.4,495.8 630.2,495.9 631.0,496.0 631.8,495.9 632.6,495.8 633.4,495.5 634.2,495.2 635.0,494.7 635.8,494.1 636.6,493.5 637.4,492.8 638.2,492.0 639.0,491.1 639.8,490.2 640.6,489.2 641.4,488.2 642.2,487.1 643.0,486.1 643.8,485.0 644.6,483.9 645.4,482.9 646.2,481.8 647.0,480.8 647.8,479.8 648.6,478.9 649.4,478.0 650.2,477.2 651.0,476.5 651.8,475.9 652.6,475.3 653.4,474.8 654.2,474.5 655.0,474.2 655.8,474.1 656.6,474.0 657.4,474.1 658.2,474.2 659.0,474.5 659.8,474.8 660.6,475.3 661.4,475.9 662.2,476.5 663.0,477.2 663.8,478.0 664.6,478.9 665.4,479.8 666.2,480.8 667.0,481.8 667.8,482.9 668.6,483.9 669.4,485.0 670.2,486.1 671.0,487.1 671.8,488.2 672.6,489.2 673.4,490.2 674.2,491.1 675.0,492.0 675.8,492.8 676.6,493.5 677.4,494.1 678.2,494.7 679.0,495.2 679.8,495.5 680.6,495.8 681.4,495.9" fill="none" stroke="#111" stroke-width="3.0" stroke-linecap="round"/>
</g>
<defs><g id="rem"><path d="M6,0.8 Q31,-0.9 56.5,0.8 Q62,2 62.3,9 L62.7,55 Q62.5,80 60,90 Q56,100.8 45,101.3 L17,101.3 Q6,100.8 3,90 Q0.4,80 0.2,55 L0.6,9 Q1,2 6,0.8Z" fill="#fff" stroke="#111" stroke-width="1.1"/><path d="M8,1.4 L55,1.4 Q57.5,1.8 57.3,6 L57.8,58 Q56.8,63 53,67 Q50,70 49.8,76 L49.5,85 Q49,89.5 44,89.7 L18.5,89.7 Q13.5,89.5 13.2,85 L12.8,76 Q12.5,70 9.5,67 Q5.8,63 5,58 L5.2,6 Q5,1.8 8,1.4Z" fill="#fff" stroke="#111" stroke-width="1.5"/><path d="M9.5,2 L8.5,58 M53.2,2 L54.2,58" fill="none" stroke="#777" stroke-width="0.7"/><path d="M3.2,6 Q2.3,30 2.6,55 Q2.8,78 5.5,90 M59.6,6 Q60.5,30 60.2,55 Q60,78 57.3,90" fill="none" stroke="#222" stroke-width="1.2"/><path d="M28.1,1.3 V14.5 Q28.1,17.5 31.3,17.5 Q34.6,17.5 34.6,14.5 V1.3" fill="#fff" stroke="#111" stroke-width="1"/><rect x="28.1" y="0.6" width="6.5" height="1.6" fill="#111"/><rect x="11" y="27.2" width="18.5" height="13.4" rx="3.5" fill="#6e6e6e" stroke="#111" stroke-width="1.4"/><rect x="32.7" y="27.2" width="19" height="13.4" rx="3.5" fill="#f4f4f4" stroke="#111" stroke-width="1.4"/><rect x="11" y="46.1" width="18.5" height="13.8" rx="3.5" fill="#f4f4f4" stroke="#111" stroke-width="1.4"/><rect x="32.7" y="46.1" width="19" height="13.8" rx="3.5" fill="#f4f4f4" stroke="#111" stroke-width="1.4"/><rect x="29.3" y="31" width="3.6" height="6" fill="#fff" stroke="#555" stroke-width="0.5"/><rect x="29.3" y="50" width="3.6" height="6" fill="#fff" stroke="#555" stroke-width="0.5"/><path d="M23,101.3 V93.2 H40.6 V101.3" fill="#fff" stroke="#111" stroke-width="1.1"/><line x1="24" y1="99" x2="39.6" y2="99" stroke="#aaa" stroke-width="1"/></g></defs>
<polygon points="57.1,745.5 184.2,745.5 211.9,783.4 211.9,816.1 184.2,854.4 57.1,854.4" fill="#fff" stroke="#1a1a1a" stroke-width="1.1" />
<circle cx="127.6" cy="716.6" r="16.8" fill="#fff" stroke="#222" stroke-width="0.9"/>
<line x1="127.6" y1="733.4" x2="127.6" y2="772.4" stroke="#1a1a1a" stroke-width="1.1" />
<polyline points="119.8,732.6 111.0,741.3 111.0,772.4" fill="none" stroke="#888" stroke-width="1.1" />
<polyline points="135.2,732.6 143.9,741.3 143.9,772.4" fill="none" stroke="#888" stroke-width="1.1" />
<rect x="99.6" y="772.4" width="87.7" height="26.2" fill="#fff" stroke="#1a1a1a" stroke-width="1.1" />
<line x1="99.6" y1="775.6" x2="187.3" y2="775.6" stroke="#1a1a1a" stroke-width="1" />
<text x="110.4" y="789.6" font-size="10.3" font-weight="normal" text-anchor="middle" >5</text>
<text x="126.5" y="789.6" font-size="10.3" font-weight="normal" text-anchor="middle" >4</text>
<text x="142.6" y="789.6" font-size="10.3" font-weight="normal" text-anchor="middle" >3</text>
<text x="159.4" y="789.6" font-size="10.3" font-weight="normal" text-anchor="middle" >2</text>
<text x="175.5" y="789.6" font-size="10.3" font-weight="normal" text-anchor="middle" >1</text>
<text x="58.5" y="743.3" font-size="10.4" font-weight="normal" text-anchor="start" >JP2</text>
<text x="163.3" y="760.8" font-size="10.4" font-weight="normal" text-anchor="start" >JP1</text>
<path d="M58.7,750.2 V801.7 H81.5 V750.2" fill="#fff" stroke="#1a1a1a" stroke-width="1.1" />
<line x1="59.7" y1="750.7" x2="59.7" y2="801.7" stroke="#888" stroke-width="0.8" />
<line x1="58.7" y1="767.5" x2="81.5" y2="767.5" stroke="#1a1a1a" stroke-width="1.1" />
<line x1="58.7" y1="784.3" x2="81.5" y2="784.3" stroke="#1a1a1a" stroke-width="1.1" />
<rect x="81.5" y="750.7" width="3.4" height="51.0" fill="#fff" stroke="#888" stroke-width="1" />
<path d="M59.1,750.5 Q63.1,747.6 68.1,748.2 M72.1,748.2 Q77.1,747.6 81.1,750.5" fill="none" stroke="#1a1a1a" stroke-width="0.9" />
<polyline points="79.5,861.0 79.5,917.6 173.4,917.6" fill="none" stroke="#1a1a1a" stroke-width="1.1" />
<polyline points="173.4,861.0 173.4,938.2 117.4,938.2" fill="none" stroke="#1a1a1a" stroke-width="1.1" />
<path d="M79.5,854.9 L83.7,862.2 L75.3,862.2Z" fill="#111" stroke="none" stroke-width="1" />
<path d="M173.4,854.9 L177.6,862.2 L169.2,862.2Z" fill="#111" stroke="none" stroke-width="1" />
<use href="#rem" x="91.5" y="883.1"/>
<line x1="91.5" y1="917.6" x2="173.4" y2="917.6" stroke="#1a1a1a" stroke-width="1.1" />
<line x1="117.4" y1="938.2" x2="173.4" y2="938.2" stroke="#1a1a1a" stroke-width="1.1" />
<circle cx="173.4" cy="873.3" r="2" fill="#111"/>
<circle cx="173.4" cy="917.6" r="2" fill="#111"/>
<polygon points="242.7,745.5 369.8,745.5 397.5,783.4 397.5,816.1 369.8,854.4 242.7,854.4" fill="#fff" stroke="#1a1a1a" stroke-width="1.1" />
<circle cx="313.2" cy="716.6" r="16.8" fill="#fff" stroke="#222" stroke-width="0.9"/>
<line x1="313.2" y1="733.4" x2="313.2" y2="772.4" stroke="#1a1a1a" stroke-width="1.1" />
<polyline points="305.4,732.6 296.6,741.3 296.6,772.4" fill="none" stroke="#888" stroke-width="1.1" />
<polyline points="320.8,732.6 329.5,741.3 329.5,772.4" fill="none" stroke="#888" stroke-width="1.1" />
<rect x="285.2" y="772.4" width="87.7" height="26.2" fill="#fff" stroke="#1a1a1a" stroke-width="1.1" />
<line x1="285.2" y1="775.6" x2="372.9" y2="775.6" stroke="#1a1a1a" stroke-width="1" />
<text x="296.0" y="789.6" font-size="10.3" font-weight="normal" text-anchor="middle" >5</text>
<text x="312.1" y="789.6" font-size="10.3" font-weight="normal" text-anchor="middle" >4</text>
<text x="328.2" y="789.6" font-size="10.3" font-weight="normal" text-anchor="middle" >3</text>
<text x="345.0" y="789.6" font-size="10.3" font-weight="normal" text-anchor="middle" >2</text>
<text x="361.1" y="789.6" font-size="10.3" font-weight="normal" text-anchor="middle" >1</text>
<text x="244.1" y="743.3" font-size="10.4" font-weight="normal" text-anchor="start" >JP2</text>
<text x="348.9" y="760.8" font-size="10.4" font-weight="normal" text-anchor="start" >JP1</text>
<path d="M244.29999999999998,750.2 V801.7 H267.09999999999997 V750.2" fill="#fff" stroke="#1a1a1a" stroke-width="1.1" />
<line x1="245.3" y1="750.7" x2="245.3" y2="801.7" stroke="#888" stroke-width="0.8" />
<line x1="244.3" y1="767.5" x2="267.1" y2="767.5" stroke="#1a1a1a" stroke-width="1.1" />
<line x1="244.3" y1="784.3" x2="267.1" y2="784.3" stroke="#1a1a1a" stroke-width="1.1" />
<rect x="267.1" y="750.7" width="3.4" height="51.0" fill="#fff" stroke="#888" stroke-width="1" />
<path d="M244.7,750.5 Q248.7,747.6 253.7,748.2 M257.7,748.2 Q262.7,747.6 266.7,750.5" fill="none" stroke="#1a1a1a" stroke-width="0.9" />
<polyline points="265.1,861.0 265.1,917.6 359.0,917.6" fill="none" stroke="#1a1a1a" stroke-width="1.1" />
<polyline points="359.0,861.0 359.0,938.2 303.0,938.2" fill="none" stroke="#1a1a1a" stroke-width="1.1" />
<path d="M265.1,854.9 L269.3,862.2 L260.9,862.2Z" fill="#111" stroke="none" stroke-width="1" />
<path d="M359.0,854.9 L363.2,862.2 L354.8,862.2Z" fill="#111" stroke="none" stroke-width="1" />
<use href="#rem" x="277.1" y="883.1"/>
<line x1="277.1" y1="917.6" x2="359.0" y2="917.6" stroke="#1a1a1a" stroke-width="1.1" />
<line x1="303.0" y1="938.2" x2="359.0" y2="938.2" stroke="#1a1a1a" stroke-width="1.1" />
<circle cx="359.0" cy="873.3" r="2" fill="#111"/>
<circle cx="359.0" cy="917.6" r="2" fill="#111"/>
<polygon points="428.3,745.5 555.4,745.5 583.1,783.4 583.1,816.1 555.4,854.4 428.3,854.4" fill="#fff" stroke="#1a1a1a" stroke-width="1.1" />
<circle cx="498.8" cy="716.6" r="16.8" fill="#fff" stroke="#222" stroke-width="0.9"/>
<line x1="498.8" y1="733.4" x2="498.8" y2="772.4" stroke="#1a1a1a" stroke-width="1.1" />
<polyline points="491.0,732.6 482.2,741.3 482.2,772.4" fill="none" stroke="#888" stroke-width="1.1" />
<polyline points="506.4,732.6 515.1,741.3 515.1,772.4" fill="none" stroke="#888" stroke-width="1.1" />
<rect x="470.8" y="772.4" width="87.7" height="26.2" fill="#fff" stroke="#1a1a1a" stroke-width="1.1" />
<line x1="470.8" y1="775.6" x2="558.5" y2="775.6" stroke="#1a1a1a" stroke-width="1" />
<text x="481.6" y="789.6" font-size="10.3" font-weight="normal" text-anchor="middle" >5</text>
<text x="497.7" y="789.6" font-size="10.3" font-weight="normal" text-anchor="middle" >4</text>
<text x="513.8" y="789.6" font-size="10.3" font-weight="normal" text-anchor="middle" >3</text>
<text x="530.6" y="789.6" font-size="10.3" font-weight="normal" text-anchor="middle" >2</text>
<text x="546.7" y="789.6" font-size="10.3" font-weight="normal" text-anchor="middle" >1</text>
<text x="429.7" y="743.3" font-size="10.4" font-weight="normal" text-anchor="start" >JP2</text>
<text x="534.5" y="760.8" font-size="10.4" font-weight="normal" text-anchor="start" >JP1</text>
<path d="M429.90000000000003,750.2 V801.7 H452.7 V750.2" fill="#fff" stroke="#1a1a1a" stroke-width="1.1" />
<line x1="430.9" y1="750.7" x2="430.9" y2="801.7" stroke="#888" stroke-width="0.8" />
<line x1="429.9" y1="767.5" x2="452.7" y2="767.5" stroke="#1a1a1a" stroke-width="1.1" />
<line x1="429.9" y1="784.3" x2="452.7" y2="784.3" stroke="#1a1a1a" stroke-width="1.1" />
<rect x="452.7" y="750.7" width="3.4" height="51.0" fill="#fff" stroke="#888" stroke-width="1" />
<path d="M430.3,750.5 Q434.3,747.6 439.3,748.2 M443.3,748.2 Q448.3,747.6 452.3,750.5" fill="none" stroke="#1a1a1a" stroke-width="0.9" />
<polyline points="450.7,861.0 450.7,917.6 544.6,917.6" fill="none" stroke="#1a1a1a" stroke-width="1.1" />
<polyline points="544.6,861.0 544.6,938.2 488.6,938.2" fill="none" stroke="#1a1a1a" stroke-width="1.1" />
<path d="M450.7,854.9 L454.9,862.2 L446.5,862.2Z" fill="#111" stroke="none" stroke-width="1" />
<path d="M544.6,854.9 L548.8,862.2 L540.4,862.2Z" fill="#111" stroke="none" stroke-width="1" />
<use href="#rem" x="462.7" y="883.1"/>
<line x1="462.7" y1="917.6" x2="544.6" y2="917.6" stroke="#1a1a1a" stroke-width="1.1" />
<line x1="488.6" y1="938.2" x2="544.6" y2="938.2" stroke="#1a1a1a" stroke-width="1.1" />
<circle cx="544.6" cy="873.3" r="2" fill="#111"/>
<circle cx="544.6" cy="917.6" r="2" fill="#111"/>
<line x1="173.4" y1="873.3" x2="544.6" y2="873.3" stroke="#1a1a1a" stroke-width="1.1" />
<text x="656.3" y="712.9" font-size="11.25" font-weight="normal" text-anchor="start" >Programmatore palmare universale</text>
<text x="656.3" y="724.3" font-size="11.25" font-weight="normal" text-anchor="start" >Universal palmtop programmer</text>
<text x="656.3" y="735.7" font-size="11.25" font-weight="normal" text-anchor="start" >Programmateur de poche universel</text>
<text x="656.3" y="747.2" font-size="11.25" font-weight="normal" text-anchor="start" >Universellen Palmtop-Programmierer</text>
<text x="656.3" y="758.6" font-size="11.25" font-weight="normal" text-anchor="start" >Programador de bolsillo universal</text>
<text x="656.3" y="770.0" font-size="11.25" font-weight="normal" text-anchor="start" >Programador palmar universal</text>
<polyline points="661.8,774.7 808.0,774.7 896.9,802.3" fill="none" stroke="#333" stroke-width="0.8" />
<path d="M1020.0,700.3 C1025.5,699.9 1025.5,702.1 1037.0,708.5 C1048.5,714.9 1086.6,736.4 1096.9,742.8 C1107.2,749.2 1103.2,746.2 1105.5,751.0 C1107.8,755.8 1111.8,770.0 1112.5,775.0 C1113.2,780.0 1117.9,776.3 1110.0,784.5 C1102.1,792.7 1071.6,818.8 1059.8,829.8 C1048.0,840.8 1039.8,854.2 1031.3,857.5 C1022.8,860.8 1009.2,852.2 1002.8,851.9 C996.4,851.6 992.8,853.4 988.5,855.5 C984.2,857.6 979.4,862.0 974.2,866.0 C969.0,870.0 960.0,878.2 954.0,882.0 C948.0,885.8 939.0,890.0 934.0,891.5 C929.0,893.0 925.5,892.9 920.5,892.3 C915.5,891.7 905.8,889.2 900.4,887.2 C895.0,885.2 890.8,882.8 884.3,879.2 C877.8,875.6 862.8,867.3 857.4,863.1 C852.0,858.9 849.9,854.5 848.0,851.0 C846.1,847.5 845.4,842.7 845.0,840.0 C844.6,837.3 843.5,835.2 845.2,833.0 C846.9,830.8 847.8,830.5 856.1,825.5 C864.4,820.5 890.7,805.5 900.4,800.0 C910.1,794.5 914.3,792.7 920.5,789.0 C926.7,785.3 937.5,779.2 942.0,775.5 C946.5,771.8 949.0,767.2 950.5,764.0 C952.0,760.8 948.4,759.6 952.0,754.1 C955.6,748.6 967.0,733.7 974.2,727.2 C981.4,720.8 993.1,715.1 1000.0,711.1 C1006.9,707.1 1014.5,700.7 1020.0,700.3Z" fill="#fff" stroke="#1a1a1a" stroke-width="1.2" />
<path d="M845.4,840.3 C846.6,841.2 848.2,843.9 853.4,846.3 C858.6,848.7 872.2,853.5 880.3,856.4 C888.4,859.3 901.1,864.0 907.1,865.8 C913.1,867.6 916.5,868.4 920.5,868.5 C924.5,868.6 927.8,870.0 934.0,866.5 C940.2,863.0 952.1,851.9 962.0,845.0 C971.9,838.1 990.0,826.0 1000.0,820.5 C1010.0,815.0 1021.2,810.4 1028.5,808.4 C1035.8,806.4 1037.1,815.3 1048.4,806.9 C1059.7,798.5 1095.7,760.8 1104.0,752.7" fill="none" stroke="#1a1a1a" stroke-width="1.1" />
<path d="M847.5,844.8 C852.4,846.9 871.4,855.1 880.3,858.6 C889.2,862.1 901.0,866.2 907.1,868.0 C913.2,869.8 916.8,870.6 921.0,870.8 C925.2,870.9 928.7,872.5 935.0,869.0 C941.3,865.5 953.2,854.4 963.0,847.5 C972.8,840.6 990.2,828.5 1000.0,823.0 C1009.8,817.5 1021.2,812.9 1028.5,810.8 C1035.8,808.7 1036.9,817.7 1048.4,809.3 C1060.0,800.9 1096.9,763.1 1105.5,755.0" fill="none" stroke="#444" stroke-width="0.7" />
<path d="M848.0,851.0 C851.3,852.6 862.2,858.5 870.0,862.0 C877.8,865.5 891.8,871.5 900.0,874.0 C908.2,876.5 918.2,878.7 925.0,879.0 C931.8,879.3 937.5,879.1 945.0,876.0 C952.5,872.9 966.8,863.1 975.0,858.0 C983.2,852.9 992.6,847.3 1000.0,842.0 C1007.4,836.7 1016.7,825.9 1024.2,822.5 C1031.7,819.1 1037.0,827.4 1049.8,819.1 C1062.6,810.8 1100.5,774.8 1109.5,767.0" fill="none" stroke="#1a1a1a" stroke-width="1.0" />
<path d="M1018.5,840.5 C1021.2,839.4 1028.3,835.7 1035.0,834.0 C1041.7,832.3 1054.5,831.1 1058.4,830.5" fill="none" stroke="#1a1a1a" stroke-width="1.0" />
<polygon points="865.5,828.5 965.0,771.0 1015.5,798.5 915.0,856.5" fill="#c9c9c9" stroke="#1a1a1a" stroke-width="1.2" stroke-linejoin="round"/>
<line x1="865.5" y1="828.5" x2="965.0" y2="771.0" stroke="#1a1a1a" stroke-width="2.2" />
<ellipse cx="882.3" cy="829.2" rx="7.3" ry="4.5" transform="rotate(-20 882.3 829.2)" fill="#fff" stroke="#111" stroke-width="1.1"/>
<line x1="880.8" y1="829.7" x2="883.8" y2="828.7" stroke="#444" stroke-width="0.8"/>
<ellipse cx="896.4" cy="820.5" rx="7.3" ry="4.5" transform="rotate(-20 896.4 820.5)" fill="#fff" stroke="#111" stroke-width="1.1"/>
<line x1="894.9" y1="821.0" x2="897.9" y2="820.0" stroke="#444" stroke-width="0.8"/>
<ellipse cx="910.5" cy="812.4" rx="7.3" ry="4.5" transform="rotate(-20 910.5 812.4)" fill="#fff" stroke="#111" stroke-width="1.1"/>
<line x1="909.0" y1="812.9" x2="912.0" y2="811.9" stroke="#444" stroke-width="0.8"/>
<ellipse cx="924.6" cy="804.4" rx="7.3" ry="4.5" transform="rotate(-20 924.6 804.4)" fill="#fff" stroke="#111" stroke-width="1.1"/>
<line x1="923.1" y1="804.9" x2="926.1" y2="803.9" stroke="#444" stroke-width="0.8"/>
<ellipse cx="940" cy="795" rx="7.3" ry="4.5" transform="rotate(-20 940 795)" fill="#fff" stroke="#111" stroke-width="1.1"/>
<path d="M937.8,792.7 L942.8,794.4 L938.2,797.4Z" fill="none" stroke="#111" stroke-width="0.8" transform="rotate(-22 940 795)"/>
<ellipse cx="899" cy="838.6" rx="7.3" ry="4.5" transform="rotate(-20 899 838.6)" fill="#fff" stroke="#111" stroke-width="1.1"/>
<line x1="897.5" y1="839.1" x2="900.5" y2="838.1" stroke="#444" stroke-width="0.8"/>
<ellipse cx="913.2" cy="829.9" rx="7.3" ry="4.5" transform="rotate(-20 913.2 829.9)" fill="#fff" stroke="#111" stroke-width="1.1"/>
<line x1="911.7" y1="830.4" x2="914.7" y2="829.4" stroke="#444" stroke-width="0.8"/>
<ellipse cx="927.2" cy="821.8" rx="7.3" ry="4.5" transform="rotate(-20 927.2 821.8)" fill="#fff" stroke="#111" stroke-width="1.1"/>
<line x1="925.7" y1="822.3" x2="928.7" y2="821.3" stroke="#444" stroke-width="0.8"/>
<ellipse cx="941.3" cy="813.1" rx="7.3" ry="4.5" transform="rotate(-20 941.3 813.1)" fill="#fff" stroke="#111" stroke-width="1.1"/>
<line x1="939.8" y1="813.6" x2="942.8" y2="812.6" stroke="#444" stroke-width="0.8"/>
<ellipse cx="957.4" cy="804.4" rx="7.3" ry="4.5" transform="rotate(-20 957.4 804.4)" fill="#fff" stroke="#111" stroke-width="1.1"/>
<path d="M955.1999999999999,802.1 L960.1999999999999,803.8 L955.6,806.8Z" fill="none" stroke="#111" stroke-width="0.8" transform="rotate(-22 957.4 804.4)"/>
<ellipse cx="971.5" cy="796.3" rx="7.3" ry="4.5" transform="rotate(-20 971.5 796.3)" fill="#fff" stroke="#111" stroke-width="1.1"/>
<path d="M969.3,794.0 L974.3,795.6999999999999 L969.7,798.6999999999999Z" fill="none" stroke="#111" stroke-width="0.8" transform="rotate(-22 971.5 796.3)"/>
<ellipse cx="915.2" cy="847.3" rx="7.3" ry="4.5" transform="rotate(-20 915.2 847.3)" fill="#fff" stroke="#111" stroke-width="1.1"/>
<line x1="913.7" y1="847.8" x2="916.7" y2="846.8" stroke="#444" stroke-width="0.8"/>
<ellipse cx="929.9" cy="839.3" rx="7.3" ry="4.5" transform="rotate(-20 929.9 839.3)" fill="#fff" stroke="#111" stroke-width="1.1"/>
<line x1="928.4" y1="839.8" x2="931.4" y2="838.8" stroke="#444" stroke-width="0.8"/>
<ellipse cx="944" cy="831.2" rx="7.3" ry="4.5" transform="rotate(-20 944 831.2)" fill="#fff" stroke="#111" stroke-width="1.1"/>
<line x1="942.5" y1="831.7" x2="945.5" y2="830.7" stroke="#444" stroke-width="0.8"/>
<ellipse cx="958.1" cy="823.2" rx="7.3" ry="4.5" transform="rotate(-20 958.1 823.2)" fill="#fff" stroke="#111" stroke-width="1.1"/>
<line x1="956.6" y1="823.7" x2="959.6" y2="822.7" stroke="#444" stroke-width="0.8"/>
<ellipse cx="974.2" cy="813.1" rx="7.3" ry="4.5" transform="rotate(-20 974.2 813.1)" fill="#fff" stroke="#111" stroke-width="1.1"/>
<path d="M972.0,810.8000000000001 L977.0,812.5 L972.4000000000001,815.5Z" fill="none" stroke="#111" stroke-width="0.8" transform="rotate(-22 974.2 813.1)"/>
<line x1="885.8" y1="823.6" x2="891.8" y2="820.6" stroke="#444" stroke-width="1.3" stroke-dasharray="0.9 0.4"/>
<line x1="899.9" y1="814.9" x2="905.9" y2="811.9" stroke="#444" stroke-width="1.3" stroke-dasharray="0.9 0.4"/>
<line x1="914.0" y1="806.8" x2="920.0" y2="803.8" stroke="#444" stroke-width="1.3" stroke-dasharray="0.9 0.4"/>
<line x1="928.1" y1="798.8" x2="934.1" y2="795.8" stroke="#444" stroke-width="1.3" stroke-dasharray="0.9 0.4"/>
<line x1="902.5" y1="833.0" x2="908.5" y2="830.0" stroke="#444" stroke-width="1.3" stroke-dasharray="0.9 0.4"/>
<line x1="916.7" y1="824.3" x2="922.7" y2="821.3" stroke="#444" stroke-width="1.3" stroke-dasharray="0.9 0.4"/>
<line x1="930.7" y1="816.1999999999999" x2="936.7" y2="813.1999999999999" stroke="#444" stroke-width="1.3" stroke-dasharray="0.9 0.4"/>
<line x1="944.8" y1="807.5" x2="950.8" y2="804.5" stroke="#444" stroke-width="1.3" stroke-dasharray="0.9 0.4"/>
<line x1="918.7" y1="841.6999999999999" x2="924.7" y2="838.6999999999999" stroke="#444" stroke-width="1.3" stroke-dasharray="0.9 0.4"/>
<line x1="933.4" y1="833.6999999999999" x2="939.4" y2="830.6999999999999" stroke="#444" stroke-width="1.3" stroke-dasharray="0.9 0.4"/>
<line x1="947.5" y1="825.6" x2="953.5" y2="822.6" stroke="#444" stroke-width="1.3" stroke-dasharray="0.9 0.4"/>
<line x1="961.6" y1="817.6" x2="967.6" y2="814.6" stroke="#444" stroke-width="1.3" stroke-dasharray="0.9 0.4"/>
<polygon points="977.1,749.9 1017.8,714.5 1084.8,752.7 1043.4,788.4" fill="#fff" stroke="#1a1a1a" stroke-width="1.2" stroke-linejoin="round"/>
<polyline points="977.1,749.9 1017.8,714.5 1084.8,752.7" fill="none" stroke="#1a1a1a" stroke-width="2.0" />
<polygon points="996.4,746.3 1017.0,728.2 1064.8,755.9 1044.1,774.4" fill="#c9c9c9" stroke="#333" stroke-width="0.8" />
<polygon points="954.0,858.0 964.0,852.5 967.5,856.0 957.5,864.0" fill="#fff" stroke="#1a1a1a" stroke-width="1" />
<polygon points="955.5,858.3 964.0,853.8 965.5,855.5 957.0,860.5" fill="#333" stroke="none" stroke-width="1" />
<polygon points="970.2,847.0 988.0,837.3 991.7,843.0 974.0,854.7" fill="#444" stroke="#1a1a1a" stroke-width="1.1" />
<polygon points="973.0,847.5 987.0,839.8 989.0,843.0 975.0,851.0" fill="#ddd" stroke="#1a1a1a" stroke-width="0.6" />
<circle cx="975.5" cy="848.3" r="0.8" fill="#333"/>
<circle cx="978.3" cy="846.8" r="0.8" fill="#333"/>
<circle cx="981.1" cy="845.3" r="0.8" fill="#333"/>
<circle cx="983.9" cy="843.8" r="0.8" fill="#333"/>
<circle cx="986.7" cy="842.3" r="0.8" fill="#333"/>
<line x1="970.2" y1="847.0" x2="974.0" y2="854.7" stroke="#1a1a1a" stroke-width="1.6" />
<polygon points="864.2,864.5 872.0,863.1 880.3,867.5 872.5,871.1" fill="#111" stroke="#1a1a1a" stroke-width="1" />
<polyline points="866.0,870.0 873.0,871.0 880.0,870.0 880.0,877.0 874.0,878.0" fill="#fff" stroke="#1a1a1a" stroke-width="0.9" />
<polygon points="883.0,873.0 891.0,874.5 893.0,884.0 885.0,885.2" fill="#fff" stroke="#1a1a1a" stroke-width="1" />
<circle cx="888" cy="879.3" r="2.6" fill="none" stroke="#111" stroke-width="0.9"/>
<line x1="848.0" y1="851.0" x2="856.0" y2="861.0" stroke="#777" stroke-width="0.8" />
<text x="977.4" y="899.7" font-size="9.75" font-weight="bold" text-anchor="start" >UNIPOWER</text>
<polygon points="1016.4,938.7 1048.1,920.5 1081.0,926.4 1039.9,950.5" fill="#fff" stroke="#1a1a1a" stroke-width="1.1" />
<polygon points="1016.4,938.7 1039.9,950.5 1039.9,963.4 1015.4,950.5" fill="#fff" stroke="#1a1a1a" stroke-width="1.1" />
<polygon points="1039.9,950.5 1081.0,926.4 1081.6,951.1 1052.8,967.5 1039.9,963.4" fill="#fff" stroke="#1a1a1a" stroke-width="1.1" />
<line x1="1016.0" y1="944.5" x2="1039.9" y2="956.5" stroke="#1a1a1a" stroke-width="0.9" />
<line x1="1019.0" y1="940.5" x2="1041.0" y2="951.7" stroke="#777" stroke-width="0.7" />
<line x1="1042.0" y1="950.7" x2="1080.0" y2="928.5" stroke="#777" stroke-width="0.7" stroke-dasharray="1 0.8"/>
<polyline points="1043.0,958.0 1048.0,955.0 1052.8,967.5" fill="none" stroke="#1a1a1a" stroke-width="0.9" />
<polygon points="1048.1,916.4 1052.0,914.0 1067.5,921.0 1067.5,927.0 1063.5,929.0 1048.1,921.5" fill="#fff" stroke="#1a1a1a" stroke-width="0.9" />
<rect x="1052.2" y="904.7" width="4.7" height="14" rx="2.3" fill="#fff" stroke="#111" stroke-width="0.9"/>
<line x1="1054.5" y1="906.7" x2="1054.5" y2="917.7" stroke="#555" stroke-width="0.5" />
<rect x="1059.2" y="908.8" width="4.7" height="14" rx="2.3" fill="#fff" stroke="#111" stroke-width="0.9"/>
<line x1="1061.5" y1="910.8" x2="1061.5" y2="921.8" stroke="#555" stroke-width="0.5" />
<line x1="1003.5" y1="902.9" x2="1044.3" y2="935.0" stroke="#333" stroke-width="0.8" />
<polygon points="228.2,1315.3 228.2,1099.2 250.5,1060.5 369.2,999.4 375.0,1001.3 375.0,1004.1 384.4,1235.5 234.1,1315.3" fill="#fff" stroke="#1a1a1a" stroke-width="1.1" />
<polyline points="234.1,1314.6 234.1,1102.8 255.2,1062.8 372.7,1002.9" fill="none" stroke="#1a1a1a" stroke-width="0.9" />
<ellipse cx="243.5" cy="1105.1" rx="2.6" ry="3.8" transform="rotate(20 243.5 1105.1)" fill="none" stroke="#111" stroke-width="0.9"/>
<polygon points="322.2,1032.3 375.0,1001.7 434.9,1018.2 382.1,1046.4" fill="#fff" stroke="#1a1a1a" stroke-width="1.1" />
<polygon points="322.2,1032.3 382.1,1046.4 382.1,1154.4 322.2,1140.3" fill="#fff" stroke="#1a1a1a" stroke-width="1.1" />
<polygon points="382.1,1046.4 434.9,1018.2 434.9,1121.5 382.1,1149.7" fill="#fff" stroke="#1a1a1a" stroke-width="1.1" />
<polygon points="389.1,1055.8 424.4,1038.9 438.5,1042.9 403.2,1060.5" fill="#fff" stroke="#1a1a1a" stroke-width="1.1" />
<polygon points="389.1,1055.8 403.2,1060.5 403.2,1127.4 389.1,1123.9" fill="#fff" stroke="#1a1a1a" stroke-width="1.1" />
<polygon points="403.2,1060.5 438.5,1042.9 438.5,1109.8 403.2,1127.4" fill="#fff" stroke="#1a1a1a" stroke-width="1.1" />
<polygon points="385.6,1140.3 430.2,1121.5 430.2,1161.5 385.6,1152.1" fill="#fff" stroke="#1a1a1a" stroke-width="1.0" />
<polygon points="405.6,1138.0 409.3,1136.6 409.3,1142.7 405.6,1144.1" fill="#fff" stroke="#1a1a1a" stroke-width="0.7" />
<polygon points="410.7,1135.9 414.5,1134.5 414.5,1140.6 410.7,1142.0" fill="#fff" stroke="#1a1a1a" stroke-width="0.7" />
<polygon points="415.9,1133.8 419.7,1132.4 419.7,1138.5 415.9,1139.9" fill="#fff" stroke="#1a1a1a" stroke-width="0.7" />
<polygon points="418.5,1130.9 426.7,1128.1 426.7,1142.7 418.5,1145.5" fill="#fff" stroke="#1a1a1a" stroke-width="0.8" />
<polygon points="309.3,1082.8 360.9,1058.1 360.9,1086.3 310.4,1107.5" fill="#fff" stroke="#1a1a1a" stroke-width="1.1" />
<polygon points="302.2,1067.5 355.1,1046.4 360.9,1058.1 309.3,1082.8" fill="#fff" stroke="#1a1a1a" stroke-width="1.0" />
<ellipse cx="323.8" cy="1058.6" rx="26" ry="12.2" transform="rotate(8 323.8 1058.6)" fill="#fff" stroke="#111" stroke-width="1.0"/>
<path d="M291.6,1051.5 C292.6,1051.3 295.4,1048.4 297.5,1049.9 C299.7,1051.4 301.0,1057.1 304.6,1060.5 C308.1,1063.8 316.3,1068.3 318.7,1069.9" fill="none" stroke="#1a1a1a" stroke-width="0.9" />
<path d="M318.7,1067.5 C320.6,1067.3 326.5,1067.5 330.4,1066.3 C334.3,1065.2 340.2,1061.5 342.2,1060.5" fill="none" stroke="#1a1a1a" stroke-width="0.7" />
<polygon points="329.2,1099.2 351.5,1087.5 385.6,1096.9 360.9,1108.6" fill="#fff" stroke="#1a1a1a" stroke-width="1.1" />
<polygon points="360.9,1108.6 385.6,1096.9 385.6,1168.5 360.9,1180.3" fill="#fff" stroke="#1a1a1a" stroke-width="1.1" />
<polygon points="329.2,1099.2 360.9,1108.6 360.9,1180.3 329.2,1170.9" fill="#fff" stroke="#1a1a1a" stroke-width="1.1" />
<polygon points="311.6,1108.6 329.2,1099.2 358.6,1109.8 337.5,1121.5" fill="#fff" stroke="#1a1a1a" stroke-width="1.1" />
<polygon points="299.9,1112.2 311.6,1108.6 337.5,1121.5 337.5,1194.4 299.9,1182.6" fill="#fff" stroke="#1a1a1a" stroke-width="1.1" />
<polygon points="337.5,1121.5 358.6,1109.8 358.6,1182.6 337.5,1194.4" fill="#fff" stroke="#1a1a1a" stroke-width="1.1" />
<polygon points="256.4,1068.7 274.0,1059.3 310.4,1072.7 301.0,1078.1" fill="#fff" stroke="#1a1a1a" stroke-width="1.1" />
<polygon points="272.9,1060.5 276.4,1058.6 290.5,1063.3 286.9,1065.2" fill="#fff" stroke="#1a1a1a" stroke-width="0.8" />
<polygon points="256.4,1068.7 282.3,1073.4 282.3,1173.2 256.4,1165.0" fill="#fff" stroke="#1a1a1a" stroke-width="1.2" />
<polygon points="282.3,1073.4 301.0,1078.1 301.0,1177.9 282.3,1173.2" fill="#fff" stroke="#1a1a1a" stroke-width="1.1" />
<polygon points="301.0,1078.1 310.4,1072.7 310.4,1170.9 301.0,1177.9" fill="#fff" stroke="#1a1a1a" stroke-width="1.1" />
<line x1="256.4" y1="1107.5" x2="301.0" y2="1116.8" stroke="#1a1a1a" stroke-width="1.1" />
<line x1="301.0" y1="1116.8" x2="310.4" y2="1112.2" stroke="#1a1a1a" stroke-width="1.1" />
<polygon points="264.6,1076.9 278.7,1079.5 278.7,1089.8 264.6,1087.3" fill="#fff" stroke="#1a1a1a" stroke-width="1.3" />
<polygon points="268.2,1079.7 277.6,1081.4 277.6,1087.5 268.2,1085.8" fill="#fff" stroke="#1a1a1a" stroke-width="0.8" />
<line x1="264.6" y1="1076.9" x2="268.2" y2="1079.7" stroke="#1a1a1a" stroke-width="0.7" />
<line x1="264.6" y1="1087.3" x2="268.2" y2="1085.8" stroke="#1a1a1a" stroke-width="0.7" />
<polygon points="264.6,1096.9 278.7,1099.5 278.7,1109.8 264.6,1107.2" fill="#fff" stroke="#1a1a1a" stroke-width="1.3" />
<polygon points="268.2,1099.7 277.6,1101.3 277.6,1107.5 268.2,1105.8" fill="#fff" stroke="#1a1a1a" stroke-width="0.8" />
<line x1="264.6" y1="1096.9" x2="268.2" y2="1099.7" stroke="#1a1a1a" stroke-width="0.7" />
<line x1="264.6" y1="1107.2" x2="268.2" y2="1105.8" stroke="#1a1a1a" stroke-width="0.7" />
<polygon points="264.6,1114.5 278.7,1117.1 278.7,1127.4 264.6,1124.8" fill="#fff" stroke="#1a1a1a" stroke-width="1.3" />
<polygon points="268.2,1117.3 277.6,1119.0 277.6,1125.1 268.2,1123.4" fill="#fff" stroke="#1a1a1a" stroke-width="0.8" />
<line x1="264.6" y1="1114.5" x2="268.2" y2="1117.3" stroke="#1a1a1a" stroke-width="0.7" />
<line x1="264.6" y1="1124.8" x2="268.2" y2="1123.4" stroke="#1a1a1a" stroke-width="0.7" />
<polygon points="264.6,1134.5 278.7,1137.1 278.7,1147.4 264.6,1144.8" fill="#fff" stroke="#1a1a1a" stroke-width="1.3" />
<polygon points="268.2,1137.3 277.6,1138.9 277.6,1145.0 268.2,1143.4" fill="#fff" stroke="#1a1a1a" stroke-width="0.8" />
<line x1="264.6" y1="1134.5" x2="268.2" y2="1137.3" stroke="#1a1a1a" stroke-width="0.7" />
<line x1="264.6" y1="1144.8" x2="268.2" y2="1143.4" stroke="#1a1a1a" stroke-width="0.7" />
<polygon points="264.6,1154.4 278.7,1157.0 278.7,1167.4 264.6,1164.8" fill="#fff" stroke="#1a1a1a" stroke-width="1.3" />
<polygon points="268.2,1157.3 277.6,1158.9 277.6,1165.0 268.2,1163.4" fill="#fff" stroke="#1a1a1a" stroke-width="0.8" />
<line x1="264.6" y1="1154.4" x2="268.2" y2="1157.3" stroke="#1a1a1a" stroke-width="0.7" />
<line x1="264.6" y1="1164.8" x2="268.2" y2="1163.4" stroke="#1a1a1a" stroke-width="0.7" />
<ellipse cx="305.7" cy="1082.8" rx="3.6" ry="4.6" fill="#fff" stroke="#111" stroke-width="1"/>
<line x1="303.9" y1="1085.4" x2="307.5" y2="1080.2" stroke="#1a1a1a" stroke-width="1.1" />
<ellipse cx="305.7" cy="1105.1" rx="3.6" ry="4.6" fill="#fff" stroke="#111" stroke-width="1"/>
<line x1="303.9" y1="1107.7" x2="307.5" y2="1102.5" stroke="#1a1a1a" stroke-width="1.1" />
<ellipse cx="305.7" cy="1125.1" rx="3.6" ry="4.6" fill="#fff" stroke="#111" stroke-width="1"/>
<line x1="303.9" y1="1127.7" x2="307.5" y2="1122.5" stroke="#1a1a1a" stroke-width="1.1" />
<ellipse cx="305.7" cy="1146.2" rx="3.6" ry="4.6" fill="#fff" stroke="#111" stroke-width="1"/>
<line x1="303.9" y1="1148.8" x2="307.5" y2="1143.6" stroke="#1a1a1a" stroke-width="1.1" />
<ellipse cx="305.7" cy="1165.0" rx="3.6" ry="4.6" fill="#fff" stroke="#111" stroke-width="1"/>
<line x1="303.9" y1="1167.6" x2="307.5" y2="1162.4" stroke="#1a1a1a" stroke-width="1.1" />
<text x="286.9" y="1086.3" font-size="6.5" font-weight="normal" text-anchor="start" transform="rotate(90 286.9 1086.3)">L</text>
<text x="286.9" y="1106.3" font-size="6.5" font-weight="normal" text-anchor="start" transform="rotate(90 286.9 1106.3)">N</text>
<polygon points="385.6,1152.1 398.5,1154.4 407.9,1166.2 398.5,1168.5 385.6,1163.8" fill="#fff" stroke="#1a1a1a" stroke-width="0.9" />
<polygon points="406.8,1168.5 419.7,1166.2 420.8,1187.3 407.9,1188.5" fill="#fff" stroke="#1a1a1a" stroke-width="1.0" />
<polygon points="407.9,1169.7 417.3,1168.1 418.5,1186.1 409.1,1187.3" fill="#333" stroke="#1a1a1a" stroke-width="0.6" />
<line x1="409.1" y1="1171.3" x2="418.5" y2="1169.9" stroke="#ccc" stroke-width="0.7" />
<line x1="409.1" y1="1173.9" x2="418.5" y2="1172.5" stroke="#ccc" stroke-width="0.7" />
<line x1="409.1" y1="1176.5" x2="418.5" y2="1175.1" stroke="#ccc" stroke-width="0.7" />
<line x1="409.1" y1="1179.1" x2="418.5" y2="1177.7" stroke="#ccc" stroke-width="0.7" />
<line x1="409.1" y1="1181.7" x2="418.5" y2="1180.3" stroke="#ccc" stroke-width="0.7" />
<line x1="409.1" y1="1184.3" x2="418.5" y2="1182.9" stroke="#ccc" stroke-width="0.7" />
<polygon points="356.2,1182.6 372.7,1180.3 372.7,1194.4 356.2,1194.4" fill="#fff" stroke="#1a1a1a" stroke-width="0.9" />
<polygon points="353.9,1210.8 370.3,1204.9 396.2,1209.6 396.2,1227.3 370.3,1229.6 353.9,1224.9" fill="#fff" stroke="#1a1a1a" stroke-width="1.0" />
<polygon points="358.6,1215.5 384.4,1212.0 384.4,1216.7 358.6,1219.0" fill="#555" stroke="#1a1a1a" stroke-width="0.6" />
<path d="M382.8,1183.8 C382.8,1195.3 382.5,1239.6 382.8,1253.1 C383.1,1266.6 382.4,1262.5 384.4,1264.8 C386.5,1267.2 387.2,1270.3 395.0,1267.2 C402.8,1264.1 425.3,1249.6 431.4,1246.0" fill="none" stroke="#141414" stroke-width="13" stroke-linejoin="round"/>
<polygon points="373.9,1175.6 396.2,1176.8 398.5,1185.0 375.0,1183.8" fill="#fff" stroke="#1a1a1a" stroke-width="1.0" />
<polygon points="372.7,1177.9 376.2,1175.6 398.5,1177.9 396.2,1180.3" fill="#fff" stroke="#1a1a1a" stroke-width="0.8" />
<polygon points="426.7,1239.0 451.4,1242.5 452.6,1249.6 427.9,1246.0" fill="#fff" stroke="#1a1a1a" stroke-width="1.0" />
<polygon points="426.7,1239.0 430.2,1236.2 452.6,1240.2 451.4,1242.5" fill="#fff" stroke="#1a1a1a" stroke-width="0.8" />
<polygon points="242.3,1212.0 264.6,1199.8 277.6,1203.8 255.2,1215.5" fill="#fff" stroke="#1a1a1a" stroke-width="1.0" />
<polygon points="242.3,1212.0 255.2,1215.5 255.2,1288.3 242.3,1284.8" fill="#fff" stroke="#1a1a1a" stroke-width="1.1" />
<polygon points="255.2,1215.5 277.6,1203.8 277.6,1278.9 255.2,1288.3" fill="#fff" stroke="#1a1a1a" stroke-width="1.1" />
<rect x="255.6" y="1206.5" width="4.0" height="3.0" fill="none" stroke="#1a1a1a" stroke-width="0.7" />
<rect x="263.5" y="1214.3" width="6.5" height="4.2" fill="#222" stroke="#1a1a1a" stroke-width="0.5" />
<rect x="263.5" y="1219.7" width="6.5" height="4.2" fill="#222" stroke="#1a1a1a" stroke-width="0.5" />
<rect x="263.5" y="1225.1" width="6.5" height="4.2" fill="#222" stroke="#1a1a1a" stroke-width="0.5" />
<rect x="263.5" y="1230.5" width="6.5" height="4.2" fill="#222" stroke="#1a1a1a" stroke-width="0.5" />
<rect x="263.5" y="1235.9" width="6.5" height="4.2" fill="#222" stroke="#1a1a1a" stroke-width="0.5" />
<rect x="263.5" y="1241.4" width="6.5" height="4.2" fill="#222" stroke="#1a1a1a" stroke-width="0.5" />
<rect x="263.5" y="1246.8" width="6.5" height="4.2" fill="#222" stroke="#1a1a1a" stroke-width="0.5" />
<rect x="263.5" y="1252.2" width="6.5" height="4.2" fill="#222" stroke="#1a1a1a" stroke-width="0.5" />
<rect x="263.5" y="1257.6" width="6.5" height="4.2" fill="#222" stroke="#1a1a1a" stroke-width="0.5" />
<rect x="263.5" y="1263.0" width="6.5" height="4.2" fill="#222" stroke="#1a1a1a" stroke-width="0.5" />
<rect x="263.5" y="1268.4" width="6.5" height="4.2" fill="#222" stroke="#1a1a1a" stroke-width="0.5" />
<rect x="263.5" y="1273.8" width="6.5" height="4.2" fill="#222" stroke="#1a1a1a" stroke-width="0.5" />
<text x="247.7" y="1216.7" font-size="6.2" font-weight="normal" text-anchor="start" transform="rotate(90 247.7 1216.7)" letter-spacing="0.1">1 2 3 4 5 6 7 8 9 10 11 12</text>
<polygon points="276.4,1202.6 286.9,1197.9 294.0,1200.2 283.4,1204.9" fill="#fff" stroke="#1a1a1a" stroke-width="0.9" />
<polygon points="276.4,1202.6 283.4,1204.9 283.4,1219.0 276.4,1216.7" fill="#fff" stroke="#1a1a1a" stroke-width="0.9" />
<polygon points="283.4,1204.9 294.0,1200.2 294.0,1214.3 283.4,1219.0" fill="#fff" stroke="#1a1a1a" stroke-width="0.9" />
<circle cx="290.0" cy="1209.6" r="3.6" fill="#fff" stroke="#111" stroke-width="0.9"/>
<ellipse cx="306.5" cy="1221.8" rx="9.6" ry="12.6" transform="rotate(18 306.5 1221.8)" fill="#fff" stroke="#111" stroke-width="1"/>
<polygon points="319.7,1217.5 313.2,1211.5 299.8,1232.1 306.3,1238.1" fill="#fff" stroke="none" stroke-width="1" />
<line x1="319.7" y1="1217.5" x2="313.2" y2="1211.5" stroke="#1a1a1a" stroke-width="1" />
<line x1="306.3" y1="1238.1" x2="299.8" y2="1232.1" stroke="#1a1a1a" stroke-width="1" />
<ellipse cx="313.0" cy="1227.8" rx="9.6" ry="12.6" transform="rotate(18 313.0 1227.8)" fill="#fff" stroke="#111" stroke-width="1.1"/>
<ellipse cx="313.0" cy="1227.8" rx="2.6" ry="3.6" transform="rotate(18 313.0 1227.8)" fill="#fff" stroke="#111" stroke-width="1"/>
<ellipse cx="283.5" cy="1233.5" rx="9.6" ry="12.6" transform="rotate(18 283.5 1233.5)" fill="#fff" stroke="#111" stroke-width="1"/>
<polygon points="296.7,1229.2 290.2,1223.2 276.8,1243.8 283.3,1249.8" fill="#fff" stroke="none" stroke-width="1" />
<line x1="296.7" y1="1229.2" x2="290.2" y2="1223.2" stroke="#1a1a1a" stroke-width="1" />
<line x1="283.3" y1="1249.8" x2="276.8" y2="1243.8" stroke="#1a1a1a" stroke-width="1" />
<ellipse cx="290.0" cy="1239.5" rx="9.6" ry="12.6" transform="rotate(18 290.0 1239.5)" fill="#fff" stroke="#111" stroke-width="1.1"/>
<ellipse cx="290.0" cy="1239.5" rx="2.6" ry="3.6" transform="rotate(18 290.0 1239.5)" fill="#fff" stroke="#111" stroke-width="1"/>
<polygon points="242.3,1295.4 339.8,1246.0 356.2,1249.6 257.6,1300.1" fill="#fff" stroke="#1a1a1a" stroke-width="1.1" />
<polygon points="257.6,1300.1 356.2,1249.6 366.8,1257.8 269.3,1308.3" fill="#fff" stroke="#1a1a1a" stroke-width="1.1" />
<polygon points="242.3,1295.4 257.6,1300.1 257.6,1316.5 242.3,1311.4" fill="#fff" stroke="#1a1a1a" stroke-width="1.1" />
<polygon points="257.6,1300.1 269.3,1308.3 269.3,1317.7 257.6,1316.5" fill="#fff" stroke="#1a1a1a" stroke-width="1.1" />
<polygon points="269.3,1308.3 366.8,1257.8 366.8,1269.5 269.3,1317.7" fill="#fff" stroke="#1a1a1a" stroke-width="1.1" />
<ellipse cx="278.7" cy="1309.5" rx="2.6" ry="3" fill="#fff" stroke="#111" stroke-width="0.9"/>
<line x1="277.3" y1="1311.1" x2="280.1" y2="1307.9" stroke="#1a1a1a" stroke-width="0.8" />
<ellipse cx="290.5" cy="1303.4" rx="2.6" ry="3" fill="#fff" stroke="#111" stroke-width="0.9"/>
<line x1="289.1" y1="1305.0" x2="291.9" y2="1301.8" stroke="#1a1a1a" stroke-width="0.8" />
<ellipse cx="302.2" cy="1297.3" rx="2.6" ry="3" fill="#fff" stroke="#111" stroke-width="0.9"/>
<line x1="300.8" y1="1298.9" x2="303.6" y2="1295.7" stroke="#1a1a1a" stroke-width="0.8" />
<ellipse cx="314.0" cy="1291.2" rx="2.6" ry="3" fill="#fff" stroke="#111" stroke-width="0.9"/>
<line x1="312.6" y1="1292.8" x2="315.4" y2="1289.6" stroke="#1a1a1a" stroke-width="0.8" />
<ellipse cx="325.7" cy="1285.0" rx="2.6" ry="3" fill="#fff" stroke="#111" stroke-width="0.9"/>
<line x1="324.3" y1="1286.6" x2="327.1" y2="1283.4" stroke="#1a1a1a" stroke-width="0.8" />
<ellipse cx="337.5" cy="1278.9" rx="2.6" ry="3" fill="#fff" stroke="#111" stroke-width="0.9"/>
<line x1="336.1" y1="1280.5" x2="338.9" y2="1277.3" stroke="#1a1a1a" stroke-width="0.8" />
<ellipse cx="349.2" cy="1272.8" rx="2.6" ry="3" fill="#fff" stroke="#111" stroke-width="0.9"/>
<line x1="347.8" y1="1274.4" x2="350.6" y2="1271.2" stroke="#1a1a1a" stroke-width="0.8" />
<ellipse cx="360.9" cy="1266.7" rx="2.6" ry="3" fill="#fff" stroke="#111" stroke-width="0.9"/>
<line x1="359.5" y1="1268.3" x2="362.3" y2="1265.1" stroke="#1a1a1a" stroke-width="0.8" />
<text x="460.8" y="1257.8" font-size="9.9" font-weight="bold" text-anchor="start" >UNIDA</text>
<polyline points="447.9,1235.5 491.6,1209.6 491.6,1085.8 858.8,867.8" fill="none" stroke="#333" stroke-width="0.8" />
<path d="M698.6,1017.7 C698.4,1020.2 698.7,1028.2 697.5,1032.5 C696.3,1036.8 696.6,1039.2 691.2,1043.5 C685.9,1047.8 671.5,1054.0 665.4,1058.3 C659.2,1062.6 656.6,1066.0 654.3,1069.4 C652.0,1072.8 652.0,1073.7 651.5,1078.6 C651.0,1083.5 652.3,1094.0 651.5,1098.9 C650.7,1103.8 650.1,1105.0 646.9,1108.1 C643.7,1111.2 634.6,1115.9 632.1,1117.4 L646.9,1124.7 C649.4,1122.5 658.8,1115.8 661.7,1111.8 C664.6,1107.8 663.8,1106.2 664.4,1100.7 C665.0,1095.2 663.7,1084.1 665.4,1078.6 C667.1,1073.1 668.5,1072.1 674.6,1067.5 C680.8,1062.9 696.3,1055.2 702.3,1050.9 C708.3,1046.6 709.1,1044.8 710.6,1041.7 C712.1,1038.6 711.4,1036.5 711.5,1032.5 C711.6,1028.5 711.5,1020.2 711.5,1017.7Z" fill="#343434" stroke="#111" stroke-width="0.7" />
<path d="M701.2,1017.7 C701.0,1020.2 701.3,1028.3 700.3,1032.5 C699.3,1036.7 699.7,1039.1 695.1,1043.1 C690.5,1047.2 678.9,1052.5 672.8,1056.8 C666.7,1061.1 661.4,1065.4 658.4,1069.0 C655.3,1072.7 655.0,1073.6 654.3,1078.6 C653.6,1083.6 654.8,1094.2 654.1,1099.3 C653.3,1104.3 653.0,1105.6 649.9,1108.8 C646.7,1112.1 637.5,1117.2 635.1,1118.9" fill="none" stroke="#8a8a8a" stroke-width="0.45" />
<path d="M703.8,1017.7 C703.6,1020.2 703.9,1028.3 703.1,1032.5 C702.3,1036.7 702.8,1039.0 699.0,1042.8 C695.1,1046.6 686.2,1051.0 680.2,1055.3 C674.1,1059.6 666.3,1064.8 662.4,1068.6 C658.6,1072.5 658.0,1073.4 657.1,1078.6 C656.1,1083.8 657.4,1094.5 656.7,1099.6 C656.0,1104.8 655.9,1106.1 652.8,1109.6 C649.7,1113.0 640.5,1118.5 638.0,1120.3" fill="none" stroke="#8a8a8a" stroke-width="0.45" />
<path d="M706.3,1017.7 C706.3,1020.2 706.5,1028.4 705.9,1032.5 C705.3,1036.6 705.9,1038.9 702.8,1042.4 C699.8,1046.0 693.6,1049.6 687.5,1053.9 C681.5,1058.2 671.1,1064.1 666.5,1068.3 C661.9,1072.4 661.0,1073.3 659.8,1078.6 C658.6,1083.9 659.9,1094.7 659.2,1100.0 C658.6,1105.3 658.8,1106.7 655.8,1110.3 C652.7,1114.0 643.4,1119.9 641.0,1121.8" fill="none" stroke="#8a8a8a" stroke-width="0.45" />
<path d="M708.9,1017.7 C708.9,1020.2 709.1,1028.4 708.7,1032.5 C708.3,1036.6 709.0,1038.7 706.7,1042.1 C704.4,1045.4 700.9,1048.1 694.9,1052.4 C688.9,1056.7 675.9,1063.5 670.5,1067.9 C665.2,1072.2 664.1,1073.2 662.6,1078.6 C661.2,1084.0 662.5,1094.9 661.8,1100.3 C661.2,1105.8 661.7,1107.2 658.7,1111.1 C655.8,1114.9 646.4,1121.2 643.9,1123.2" fill="none" stroke="#8a8a8a" stroke-width="0.45" />
<polygon points="692.1,1007.5 713.4,1020.5 724.5,1014.4 703.2,1001.4" fill="#fff" stroke="#1a1a1a" stroke-width="1.0" />
<polygon points="692.1,1007.5 713.4,1020.5 713.4,1026.0 692.1,1013.0" fill="#fff" stroke="#1a1a1a" stroke-width="1.0" />
<polygon points="713.4,1020.5 724.5,1014.4 724.5,1019.9 713.4,1026.0" fill="#fff" stroke="#1a1a1a" stroke-width="1.0" />
<polygon points="697.1,1006.7 715.0,1017.6 719.5,1015.2 701.6,1004.3" fill="#fff" stroke="#1a1a1a" stroke-width="0.7" />
<line x1="699.8" y1="1005.8" x2="716.8" y2="1016.2" stroke="#1a1a1a" stroke-width="0.6" />
<polygon points="622.0,1119.2 641.5,1129.5 647.0,1126.7 627.5,1116.4" fill="#fff" stroke="#1a1a1a" stroke-width="1.0" />
<polygon points="622.0,1119.2 641.5,1129.5 641.5,1141.5 622.0,1131.2" fill="#fff" stroke="#1a1a1a" stroke-width="1.0" />
<polygon points="641.5,1129.5 647.0,1126.7 647.0,1138.7 641.5,1141.5" fill="#fff" stroke="#1a1a1a" stroke-width="1.0" />
<polygon points="625.2,1119.2 641.6,1127.8 643.8,1126.7 627.4,1118.1" fill="#fff" stroke="#1a1a1a" stroke-width="0.7" />
<line x1="626.7" y1="1118.8" x2="642.3" y2="1127.1" stroke="#1a1a1a" stroke-width="0.6" />
<text x="636.1" y="1043.3" font-size="9.85" font-weight="bold" text-anchor="start" >UNIFLAT</text>
<line x1="658.0" y1="1045.0" x2="666.0" y2="1058.0" stroke="#1a1a1a" stroke-width="0.8" />
<text x="577.0" y="1103.1" font-size="9.85" font-weight="bold" text-anchor="start" >UNITRC</text>
<line x1="596.3" y1="1107.0" x2="620.6" y2="1141.7" stroke="#1a1a1a" stroke-width="0.8" />
<polygon points="649.7,1159.8 656.1,1157.0 656.1,1193.0 649.7,1195.8" fill="#fff" stroke="#1a1a1a" stroke-width="1.0" />
<line x1="652.5" y1="1158.3" x2="652.5" y2="1194.5" stroke="#1a1a1a" stroke-width="0.7" />
<polygon points="619.2,1150.6 629.4,1143.6 655.2,1157.0 644.1,1162.6" fill="#fff" stroke="#1a1a1a" stroke-width="1.0" />
<polygon points="619.2,1150.6 644.1,1162.6 644.1,1172.7 619.2,1160.7" fill="#fff" stroke="#1a1a1a" stroke-width="1.0" />
<polygon points="622.9,1150.9 630.3,1146.9 646.9,1155.7 640.5,1158.9" fill="#fff" stroke="#1a1a1a" stroke-width="0.7" />
<polygon points="628.5,1152.4 643.2,1159.8 643.2,1162.6 628.5,1155.2" fill="#222" stroke="none" stroke-width="1" />
<rect x="629.4" y="1156.1" width="3.0" height="9.0" fill="#222" stroke="none" stroke-width="1" />
<polygon points="612.8,1173.6 621.1,1170.0 646.9,1182.0 638.6,1185.6" fill="#fff" stroke="#1a1a1a" stroke-width="1.0" />
<polygon points="612.8,1173.6 638.6,1185.6 638.6,1195.8 612.8,1183.8" fill="#fff" stroke="#1a1a1a" stroke-width="1.0" />
<polygon points="638.6,1185.6 646.9,1182.0 646.9,1191.2 638.6,1195.8" fill="#fff" stroke="#1a1a1a" stroke-width="1.0" />
<polygon points="629.2,1195.5 640.0,1191.0 651.0,1194.5 653.5,1198.0 653.5,1204.0 649.4,1205.6 629.5,1199.0" fill="#fff" stroke="#1a1a1a" stroke-width="1.0" />
<line x1="649.4" y1="1199.5" x2="649.4" y2="1205.6" stroke="#1a1a1a" stroke-width="0.8" />
<text x="508.9" y="1130.3" font-size="9.8" font-weight="normal" text-anchor="start" stroke="#000" stroke-width="0.25">Contatti</text>
<text x="508.9" y="1142.3" font-size="9.8" font-weight="normal" text-anchor="start" stroke="#000" stroke-width="0.25">Contacts</text>
<text x="508.9" y="1154.4" font-size="9.8" font-weight="normal" text-anchor="start" stroke="#000" stroke-width="0.25">Contacts</text>
<text x="508.9" y="1166.5" font-size="9.8" font-weight="normal" text-anchor="start" stroke="#000" stroke-width="0.25">Kontakte</text>
<text x="508.9" y="1178.5" font-size="9.8" font-weight="normal" text-anchor="start" stroke="#000" stroke-width="0.25">Contactos</text>
<text x="508.9" y="1190.5" font-size="9.8" font-weight="normal" text-anchor="start" stroke="#000" stroke-width="0.25">Contatos</text>
<polygon points="559.4,1139.7 574.5,1133.1 604.7,1151.7 588.6,1157.3" fill="#fff" stroke="#1a1a1a" stroke-width="1.0" />
<polygon points="559.4,1139.7 588.6,1157.3 587.6,1163.3 560.4,1146.2 558.4,1146.2 558.2,1142.2" fill="#fff" stroke="#1a1a1a" stroke-width="1.0" />
<polygon points="588.6,1157.3 604.7,1151.7 605.7,1154.3 603.7,1157.3 587.6,1163.3" fill="#fff" stroke="#1a1a1a" stroke-width="1.0" />
<polygon points="589.6,1155.3 595.1,1153.5 595.6,1159.3 589.9,1161.5" fill="#222" stroke="none" stroke-width="1" />
<line x1="560.4" y1="1141.4" x2="587.6" y2="1157.8" stroke="#1a1a1a" stroke-width="1.6" />
<g transform="rotate(28 577 1181)"><rect x="562" y="1174" width="30" height="14" rx="6" fill="#fff" stroke="#111" stroke-width="1"/><ellipse cx="591" cy="1181" rx="3.5" ry="7" fill="#fff" stroke="#111" stroke-width="1"/><circle cx="591" cy="1181" r="1.3" fill="#111"/><line x1="568" y1="1174.5" x2="568" y2="1187.5" stroke="#111" stroke-width="0.8"/></g>
<path d="M516.4,1227.2 C519.3,1225.2 537.9,1215.3 542.9,1212.8 C547.8,1210.2 562.8,1202.8 565.8,1201.8 C568.8,1200.9 569.7,1201.5 572.8,1203.1 C575.9,1204.6 594.0,1215.1 596.6,1217.2 C599.1,1219.2 598.6,1222.2 598.4,1223.3 C598.1,1224.5 599.1,1225.6 593.9,1228.6 C588.7,1231.6 551.7,1250.8 546.4,1253.3 C541.1,1255.8 544.1,1255.0 541.1,1253.6 C538.1,1252.2 519.1,1241.2 516.4,1239.2 C513.7,1237.1 514.3,1234.2 514.3,1233.0 C514.3,1231.8 513.6,1229.2 516.4,1227.2Z" fill="#fff" stroke="#1a1a1a" stroke-width="1.1" />
<path d="M515.5,1229.5 C518.1,1231.0 538.3,1242.8 541.1,1244.5 C543.9,1246.1 543.0,1246.2 543.7,1246.2 C544.4,1246.3 542.7,1247.5 548.1,1244.8 C553.5,1242.2 592.9,1222.3 597.8,1219.8" fill="none" stroke="#1a1a1a" stroke-width="1.0" />
<path d="M516.4,1236.5 C518.9,1237.9 538.4,1249.3 541.4,1250.6 C544.4,1252.0 541.0,1252.6 546.4,1250.1 C551.8,1247.6 590.8,1227.9 595.7,1225.4" fill="none" stroke="#1a1a1a" stroke-width="0.8" />
<line x1="542.9" y1="1246.2" x2="542.0" y2="1253.6" stroke="#1a1a1a" stroke-width="0.9" />
<polygon points="559.6,1205.7 567.5,1201.8 597.5,1217.7 589.5,1221.9" fill="#fff" stroke="#1a1a1a" stroke-width="1.0" />
<line x1="564.0" y1="1207.5" x2="592.2" y2="1221.6" stroke="#1a1a1a" stroke-width="1.5" />
<line x1="567.5" y1="1203.9" x2="595.7" y2="1218.4" stroke="#1a1a1a" stroke-width="0.8" />
<ellipse cx="549.0" cy="1234.8" rx="5.6" ry="3.8" fill="#fff" stroke="#111" stroke-width="1.1"/><ellipse cx="549.0" cy="1234.2" rx="3.4" ry="2.2" fill="none" stroke="#111" stroke-width="0.8"/>
<ellipse cx="561.4" cy="1227.7" rx="5.6" ry="3.8" fill="#fff" stroke="#111" stroke-width="1.1"/><ellipse cx="561.4" cy="1227.1" rx="3.4" ry="2.2" fill="none" stroke="#111" stroke-width="0.8"/>
<circle cx="568.4" cy="1205.7" r="1.6" fill="#fff" stroke="#111" stroke-width="0.8"/>
<circle cx="578.1" cy="1215.4" r="1.6" fill="#fff" stroke="#111" stroke-width="0.8"/>
<circle cx="593.9" cy="1221.2" r="1.6" fill="#fff" stroke="#111" stroke-width="0.8"/>
<line x1="621.4" y1="1195.8" x2="585.0" y2="1208.0" stroke="#1a1a1a" stroke-width="0.9" />
<line x1="536.2" y1="1192.0" x2="578.0" y2="1210.0" stroke="#1a1a1a" stroke-width="0.9" />
<path d="M580,1209.6 L588,1204 L589.5,1209.5Z" fill="#111" stroke="none" stroke-width="1" />
<rect x="792.7" y="1033.4" width="14.8" height="67.3" fill="#1c1c1c" stroke="#111" stroke-width="0.7" />
<line x1="802.0" y1="1035.0" x2="802.0" y2="1100.0" stroke="#fff" stroke-width="0.9" />
<path d="M792.7,1100.7 C791.5,1102.2 791.1,1106.0 785.3,1110.0 C779.5,1114.0 763.9,1120.1 757.7,1124.7 C751.6,1129.3 750.2,1134.0 748.4,1137.7 C746.5,1141.4 746.9,1142.0 746.6,1146.9 C746.3,1151.8 747.2,1162.3 746.6,1167.2 C746.0,1172.1 746.0,1173.3 742.9,1176.4 C739.8,1179.5 730.6,1184.1 728.1,1185.6 L742.9,1193.0 C745.0,1191.2 752.9,1185.7 755.8,1182.0 C758.7,1178.3 759.6,1177.4 760.4,1170.9 C761.2,1164.4 759.3,1149.4 760.4,1143.2 C761.5,1137.0 761.2,1138.0 766.9,1134.0 C772.6,1130.0 788.1,1123.2 794.6,1119.2 C801.1,1115.2 803.5,1113.1 805.6,1110.0 C807.8,1106.9 807.2,1102.2 807.5,1100.7Z" fill="#343434" stroke="#111" stroke-width="0.7" />
<path d="M795.7,1100.7 C794.6,1102.2 794.5,1106.2 789.4,1110.0 C784.3,1113.8 771.3,1119.1 765.1,1123.6 C758.9,1128.1 754.7,1133.2 752.1,1137.0 C749.5,1140.7 749.8,1141.0 749.4,1146.2 C748.9,1151.3 750.0,1162.7 749.4,1167.9 C748.7,1173.2 748.5,1174.3 745.5,1177.5 C742.4,1180.7 733.5,1185.5 731.1,1187.1" fill="none" stroke="#8a8a8a" stroke-width="0.45" />
<path d="M798.6,1100.7 C797.8,1102.2 797.8,1106.4 793.4,1110.0 C789.1,1113.6 778.7,1118.1 772.5,1122.5 C766.2,1126.9 759.2,1132.4 755.8,1136.2 C752.4,1140.0 752.7,1140.0 752.1,1145.4 C751.5,1150.8 752.8,1163.1 752.1,1168.7 C751.4,1174.2 751.1,1175.3 748.1,1178.6 C745.0,1182.0 736.4,1186.9 734.0,1188.6" fill="none" stroke="#8a8a8a" stroke-width="0.45" />
<path d="M801.6,1100.7 C800.9,1102.2 801.1,1106.5 797.5,1110.0 C793.9,1113.5 786.2,1117.2 779.8,1121.4 C773.5,1125.6 763.7,1131.6 759.5,1135.5 C755.3,1139.4 755.6,1139.0 754.9,1144.7 C754.1,1150.3 755.6,1163.6 754.9,1169.4 C754.2,1175.3 753.6,1176.3 750.6,1179.8 C747.7,1183.2 739.3,1188.3 737.0,1190.0" fill="none" stroke="#8a8a8a" stroke-width="0.45" />
<path d="M804.5,1100.7 C804.0,1102.2 804.4,1106.7 801.5,1110.0 C798.7,1113.3 793.6,1116.2 787.2,1120.3 C780.8,1124.4 768.1,1130.8 763.2,1134.7 C758.3,1138.7 758.6,1138.0 757.6,1143.9 C756.7,1149.8 758.4,1164.0 757.6,1170.2 C756.9,1176.3 756.2,1177.3 753.2,1180.9 C750.3,1184.4 742.2,1189.7 739.9,1191.5" fill="none" stroke="#8a8a8a" stroke-width="0.45" />
<polygon points="788.1,1025.1 808.4,1036.2 819.5,1029.7 799.2,1018.6" fill="#fff" stroke="#1a1a1a" stroke-width="1.0" />
<polygon points="788.1,1025.1 808.4,1036.2 808.4,1041.7 788.1,1030.6" fill="#fff" stroke="#1a1a1a" stroke-width="1.0" />
<polygon points="808.4,1036.2 819.5,1029.7 819.5,1035.2 808.4,1041.7" fill="#fff" stroke="#1a1a1a" stroke-width="1.0" />
<polygon points="793.1,1024.0 810.1,1033.4 814.5,1030.8 797.5,1021.4" fill="#fff" stroke="#1a1a1a" stroke-width="0.7" />
<line x1="795.7" y1="1023.0" x2="811.9" y2="1031.8" stroke="#1a1a1a" stroke-width="0.6" />
<polygon points="717.0,1186.6 736.4,1195.8 742.0,1193.0 722.6,1183.8" fill="#fff" stroke="#1a1a1a" stroke-width="1.0" />
<polygon points="717.0,1186.6 736.4,1195.8 736.4,1208.8 717.0,1199.6" fill="#fff" stroke="#1a1a1a" stroke-width="1.0" />
<polygon points="736.4,1195.8 742.0,1193.0 742.0,1206.0 736.4,1208.8" fill="#fff" stroke="#1a1a1a" stroke-width="1.0" />
<polygon points="720.2,1186.5 736.5,1194.2 738.8,1193.1 722.5,1185.4" fill="#fff" stroke="#1a1a1a" stroke-width="0.7" />
<line x1="721.7" y1="1186.1" x2="737.3" y2="1193.5" stroke="#1a1a1a" stroke-width="0.6" />
<text x="711.3" y="1103.1" font-size="9.85" font-weight="bold" text-anchor="start" >UNIFLAT</text>
<line x1="741.0" y1="1106.0" x2="760.0" y2="1123.0" stroke="#1a1a1a" stroke-width="0.8" />
<text x="779.6" y="1191.1" font-size="9.85" font-weight="bold" text-anchor="start" >UNIMITTO</text>
<line x1="789.3" y1="1193.8" x2="750.7" y2="1218.9" stroke="#1a1a1a" stroke-width="0.8" />
<polygon points="720.6,1211.1 725.8,1208.5 752.3,1224.0 752.3,1262.8 747.6,1264.6 720.0,1249.9 720.0,1233.4" fill="#fff" stroke="#1a1a1a" stroke-width="1.0" />
<line x1="747.6" y1="1226.4" x2="747.6" y2="1264.0" stroke="#1a1a1a" stroke-width="0.9" />
<line x1="747.6" y1="1226.4" x2="752.3" y2="1224.0" stroke="#1a1a1a" stroke-width="0.9" />
<polygon points="714.1,1217.0 720.6,1213.5 745.2,1227.6 738.2,1231.1" fill="#fff" stroke="#1a1a1a" stroke-width="1.0" />
<polygon points="714.1,1217.0 738.2,1229.9 738.2,1240.5 714.1,1227.6" fill="#fff" stroke="#1a1a1a" stroke-width="1.0" />
<polygon points="738.2,1229.9 745.2,1226.4 745.2,1236.9 738.2,1240.5" fill="#fff" stroke="#1a1a1a" stroke-width="1.0" />
<polygon points="720.0,1214.6 722.9,1214.0 737.6,1222.3 735.2,1223.4" fill="#222" stroke="none" stroke-width="1" />
<rect x="724.1" y="1219.3" width="2.8" height="11.0" fill="#222" stroke="none" stroke-width="1" />
<polygon points="725.3,1256.9 734.1,1253.4 740.5,1258.1 731.7,1262.8" fill="#333" stroke="#1a1a1a" stroke-width="0.6" />
<line x1="727.5" y1="1256.0" x2="733.9" y2="1261.6" stroke="#bbb" stroke-width="0.5" />
<line x1="726.9" y1="1258.4" x2="735.7" y2="1254.6" stroke="#bbb" stroke-width="0.5" />
<line x1="729.7" y1="1255.2" x2="736.2" y2="1260.4" stroke="#bbb" stroke-width="0.5" />
<line x1="728.5" y1="1259.9" x2="737.4" y2="1255.7" stroke="#bbb" stroke-width="0.5" />
<line x1="731.9" y1="1254.3" x2="738.4" y2="1259.3" stroke="#bbb" stroke-width="0.5" />
<line x1="730.2" y1="1261.3" x2="739.0" y2="1256.9" stroke="#bbb" stroke-width="0.5" />
<rect x="833.7" y="1070.0" width="15.5" height="48.0" fill="#2a2a2a" stroke="#111" stroke-width="0.7" />
<line x1="837.5" y1="1071.0" x2="837.5" y2="1117.0" stroke="#999" stroke-width="0.5" />
<line x1="841.5" y1="1071.0" x2="841.5" y2="1117.0" stroke="#999" stroke-width="0.5" />
<line x1="845.5" y1="1071.0" x2="845.5" y2="1117.0" stroke="#999" stroke-width="0.5" />
<path d="M833.7,1116.0 C833.8,1118.0 833.8,1124.9 834.5,1128.0 C835.2,1131.1 836.2,1132.9 838.0,1134.5 C839.8,1136.1 842.0,1137.2 845.0,1137.4 C848.0,1137.7 849.7,1138.8 856.2,1136.0 C862.8,1133.2 879.0,1123.5 884.3,1120.5 C889.6,1117.5 887.4,1118.4 888.0,1118.0 L888.0,1104.5 C887.4,1104.8 889.6,1103.6 884.3,1106.5 C879.0,1109.4 861.4,1119.3 856.2,1121.9 C851.0,1124.5 853.9,1122.1 853.0,1121.9 C852.1,1121.7 851.2,1121.2 850.6,1120.5 C850.0,1119.8 849.8,1118.9 849.6,1118.0 C849.4,1117.1 849.3,1115.4 849.2,1114.9Z" fill="#343434" stroke="#111" stroke-width="0.7" />
<path d="M836.8,1115.8 C836.9,1117.5 836.9,1123.3 837.5,1126.0 C838.1,1128.7 839.0,1130.3 840.5,1131.7 C842.0,1133.1 844.0,1134.1 846.6,1134.3 C849.2,1134.5 849.9,1135.9 856.2,1133.2 C862.5,1130.4 879.0,1120.7 884.3,1117.7 C889.6,1114.7 887.4,1115.7 888.0,1115.3" fill="none" stroke="#8a8a8a" stroke-width="0.45" />
<path d="M839.9,1115.6 C840.0,1117.0 840.0,1121.8 840.5,1124.0 C841.1,1126.2 841.8,1127.7 843.0,1128.9 C844.3,1130.1 846.0,1131.0 848.2,1131.2 C850.4,1131.4 850.2,1133.1 856.2,1130.4 C862.2,1127.6 879.0,1117.9 884.3,1114.9 C889.6,1111.9 887.4,1113.0 888.0,1112.6" fill="none" stroke="#8a8a8a" stroke-width="0.45" />
<path d="M843.0,1115.3 C843.1,1116.5 843.1,1120.2 843.6,1122.0 C844.0,1123.8 844.5,1125.1 845.6,1126.1 C846.6,1127.1 848.0,1127.9 849.8,1128.1 C851.6,1128.3 850.5,1130.2 856.2,1127.5 C862.0,1124.9 879.0,1115.0 884.3,1112.1 C889.6,1109.2 887.4,1110.3 888.0,1109.9" fill="none" stroke="#8a8a8a" stroke-width="0.45" />
<path d="M846.1,1115.1 C846.2,1115.9 846.2,1118.6 846.6,1120.0 C846.9,1121.4 847.3,1122.5 848.1,1123.3 C848.9,1124.1 850.0,1124.8 851.4,1125.0 C852.8,1125.2 850.7,1127.3 856.2,1124.7 C861.7,1122.1 879.0,1112.2 884.3,1109.3 C889.6,1106.4 887.4,1107.5 888.0,1107.2" fill="none" stroke="#8a8a8a" stroke-width="0.45" />
<polygon points="829.5,1060.0 851.5,1068.5 859.0,1062.5 837.0,1054.0" fill="#fff" stroke="#1a1a1a" stroke-width="1.0" />
<polygon points="829.5,1060.0 851.5,1068.5 851.5,1075.5 829.5,1067.0" fill="#fff" stroke="#1a1a1a" stroke-width="1.0" />
<polygon points="851.5,1068.5 859.0,1062.5 859.0,1069.5 851.5,1075.5" fill="#fff" stroke="#1a1a1a" stroke-width="1.0" />
<polygon points="833.5,1058.9 852.0,1066.0 855.0,1063.6 836.5,1056.5" fill="#fff" stroke="#1a1a1a" stroke-width="0.7" />
<line x1="835.5" y1="1057.8" x2="853.0" y2="1064.7" stroke="#1a1a1a" stroke-width="0.6" />
<text x="876.4" y="1071.3" font-size="9.85" font-weight="bold" text-anchor="start" >UNIFLAT</text>
<line x1="894.2" y1="1074.2" x2="849.2" y2="1109.3" stroke="#1a1a1a" stroke-width="0.8" />
<polygon points="875.3,1108.2 885.0,1104.0 906.7,1115.0 906.7,1162.3 875.3,1146.1" fill="#fff" stroke="#1a1a1a" stroke-width="1.0" />
<line x1="885.0" y1="1104.0" x2="885.0" y2="1150.0" stroke="#666" stroke-width="0.6" />
<polygon points="876.9,1146.1 904.0,1159.6 904.0,1173.2 876.9,1159.6" fill="#fff" stroke="#1a1a1a" stroke-width="1.0" />
<line x1="890.0" y1="1153.0" x2="890.0" y2="1166.0" stroke="#1a1a1a" stroke-width="0.7" />
<polygon points="906.7,1140.7 917.5,1143.4 917.5,1154.2 906.7,1151.5" fill="#fff" stroke="#1a1a1a" stroke-width="1.0" />
<polygon points="885.0,1102.8 893.1,1097.4 914.8,1108.2 906.7,1113.6" fill="#fff" stroke="#1a1a1a" stroke-width="1.0" />
<polygon points="885.0,1102.8 906.7,1113.6 906.7,1121.8 885.0,1110.9" fill="#fff" stroke="#1a1a1a" stroke-width="1.0" />
<polygon points="906.7,1113.6 914.8,1108.2 914.8,1116.3 906.7,1121.8" fill="#fff" stroke="#1a1a1a" stroke-width="1.0" />
<line x1="888.0" y1="1103.5" x2="894.0" y2="1100.5" stroke="#1a1a1a" stroke-width="0.7" />
<line x1="891.0" y1="1105.0" x2="897.0" y2="1102.0" stroke="#1a1a1a" stroke-width="0.7" />
<line x1="894.0" y1="1106.5" x2="900.0" y2="1103.5" stroke="#1a1a1a" stroke-width="0.7" />
<line x1="897.0" y1="1108.0" x2="903.0" y2="1105.0" stroke="#1a1a1a" stroke-width="0.7" />
<line x1="900.0" y1="1109.5" x2="906.0" y2="1106.5" stroke="#1a1a1a" stroke-width="0.7" />
<line x1="903.0" y1="1111.0" x2="909.0" y2="1108.0" stroke="#1a1a1a" stroke-width="0.7" />
<text x="882.3" y="1188.5" font-size="9.85" font-weight="bold" text-anchor="start" >UNITRC</text>
<path d="M928.7,1119.1 C929.3,1116.1 929.7,1107.4 933.5,1103.7 C937.3,1099.9 951.2,1094.4 957.4,1091.0 C963.6,1087.6 975.9,1079.8 979.9,1078.4 C983.8,1077.0 982.4,1077.4 986.9,1080.6 C991.4,1083.8 1009.9,1096.2 1013.6,1102.3 C1017.4,1108.3 1017.6,1121.3 1015.0,1126.1 C1012.4,1131.0 999.7,1135.8 993.9,1138.8 C988.1,1141.8 975.4,1147.6 971.4,1148.6 C967.5,1149.6 970.0,1149.4 964.4,1146.4 C958.8,1143.4 934.0,1129.8 929.3,1126.1 C924.5,1122.5 928.2,1122.1 928.7,1119.1Z" fill="#fff" stroke="#1a1a1a" stroke-width="1.1" />
<path d="M929.8,1121.9 C935.8,1125.2 951.9,1142.3 965.8,1141.6 C979.8,1140.9 1005.6,1121.7 1013.6,1117.7" fill="none" stroke="#1a1a1a" stroke-width="0.9" />
<polygon points="939.1,1106.5 953.2,1098.0 984.1,1112.1 968.6,1131.8 940.5,1117.7" fill="#fff" stroke="#1a1a1a" stroke-width="1.0" />
<polygon points="941.9,1107.9 953.2,1101.4 979.9,1112.7 968.1,1127.6" fill="#fff" stroke="#1a1a1a" stroke-width="0.9" />
<line x1="953.2" y1="1103.7" x2="946.1" y2="1112.1" stroke="#1a1a1a" stroke-width="0.8" />
<line x1="958.2" y1="1105.9" x2="951.2" y2="1114.3" stroke="#1a1a1a" stroke-width="0.8" />
<line x1="963.3" y1="1108.2" x2="956.3" y2="1116.6" stroke="#1a1a1a" stroke-width="0.8" />
<line x1="968.4" y1="1110.4" x2="961.3" y2="1118.8" stroke="#1a1a1a" stroke-width="0.8" />
<polygon points="951.8,1102.3 979.9,1113.5 977.1,1117.7 950.4,1105.9" fill="#333" stroke="none" stroke-width="1" />
<circle cx="992" cy="1093.5" r="2.2" fill="none" stroke="#111" stroke-width="0.9"/>
<line x1="923.7" y1="1148.6" x2="955.0" y2="1117.0" stroke="#1a1a1a" stroke-width="0.9" />
<path d="M960,1112 L951.5,1115.5 L956.5,1120.5Z" fill="#111" stroke="none" stroke-width="1" />
<path d="M928,1045 Q929,1040 935,1038 L945,1036 L975,1050 Q978,1053 976,1057 L968,1064 L962,1072 L960,1066 L930,1052Z" fill="#fff" stroke="#1a1a1a" stroke-width="1.0" />
<path d="M953,1046 L966,1052 L957,1056Z" fill="#222" stroke="none" stroke-width="1" />
<g transform="rotate(24 948 1076)"><rect x="932" y="1069" width="33" height="14" rx="6" fill="#fff" stroke="#111" stroke-width="1"/><ellipse cx="964" cy="1076" rx="3.5" ry="7" fill="#fff" stroke="#111" stroke-width="1"/><circle cx="964" cy="1076" r="1.3" fill="#111"/><text x="950" y="1079" font-size="7" font-weight="bold">+</text></g>
<text x="1060.8" y="1001.8" font-size="9.8" font-weight="normal" text-anchor="start" >Contatti</text>
<text x="1060.8" y="1013.8" font-size="9.8" font-weight="normal" text-anchor="start" >Contacts</text>
<text x="1060.8" y="1025.7" font-size="9.8" font-weight="normal" text-anchor="start" >Contacts</text>
<text x="1060.8" y="1037.6" font-size="9.8" font-weight="normal" text-anchor="start" >Kontakte</text>
<text x="1060.8" y="1049.6" font-size="9.8" font-weight="normal" text-anchor="start" >Contactos</text>
<text x="1060.8" y="1061.5" font-size="9.8" font-weight="normal" text-anchor="start" >Contatos</text>
<line x1="1057.2" y1="1023.6" x2="978.5" y2="1100.9" stroke="#1a1a1a" stroke-width="0.8" />
<line x1="725.6" y1="1000.9" x2="858.2" y2="882.5" stroke="#222" stroke-width="0.8" />
<path d="M864.2,877.2 L860.0,884.5 L856.5,880.6Z" fill="#111" stroke="none" stroke-width="1" />
<line x1="812.4" y1="1018.2" x2="865.5" y2="886.6" stroke="#222" stroke-width="0.8" />
<path d="M868.5,879.2 L867.9,887.6 L863.1,885.6Z" fill="#111" stroke="none" stroke-width="1" />
<line x1="854.9" y1="1056.8" x2="875.0" y2="891.1" stroke="#222" stroke-width="0.8" />
<path d="M876.0,883.2 L877.6,891.5 L872.5,890.8Z" fill="#111" stroke="none" stroke-width="1" />
<path d="M858.8,867.8 L853.2,874.1 L850.6,869.6Z" fill="#111" stroke="none" stroke-width="1" />
<text x="600.8" y="1242.8" font-size="9.8" font-weight="normal" text-anchor="start" >Contatti</text>
<text x="600.8" y="1254.8" font-size="9.8" font-weight="normal" text-anchor="start" >Contacts</text>
<text x="600.8" y="1266.9" font-size="9.8" font-weight="normal" text-anchor="start" >Contacts</text>
<text x="600.8" y="1279.0" font-size="9.8" font-weight="normal" text-anchor="start" >Kontakte</text>
<text x="600.8" y="1291.0" font-size="9.8" font-weight="normal" text-anchor="start" >Contactos</text>
<text x="600.8" y="1303.0" font-size="9.8" font-weight="normal" text-anchor="start" >Contatos</text>
<text x="800.6" y="1284.1" font-size="9.8" font-weight="normal" text-anchor="start" >Contatti</text>
<text x="800.6" y="1296.1" font-size="9.8" font-weight="normal" text-anchor="start" >Contacts</text>
<text x="800.6" y="1308.2" font-size="9.8" font-weight="normal" text-anchor="start" >Contacts</text>
<text x="800.6" y="1320.2" font-size="9.8" font-weight="normal" text-anchor="start" >Kontakte</text>
<text x="800.6" y="1332.3" font-size="9.8" font-weight="normal" text-anchor="start" >Contactos</text>
<text x="800.6" y="1344.3" font-size="9.8" font-weight="normal" text-anchor="start" >Contatos</text>
<path d="M641.5,1237.5 Q668,1226 684,1242 Q690,1250 690.5,1258" fill="none" stroke="#222" stroke-width="0.8" />
<path d="M687.5,1256 L691,1264.5 L694,1256Z" fill="#111" stroke="none" stroke-width="1" />
<path d="M811.6,1275.4 Q795,1248 775,1252 Q762,1256 758.5,1271" fill="none" stroke="#222" stroke-width="0.8" />
<path d="M755.5,1270 L757.5,1279.5 L761.6,1271Z" fill="#111" stroke="none" stroke-width="1" />
<path d="M658.9,1261.4 C661.0,1258.3 664.4,1256.2 668.9,1257.0 C673.5,1257.7 684.4,1263.5 689.1,1266.4 C693.8,1269.4 697.9,1273.3 700.4,1276.5 C702.9,1279.7 704.3,1282.0 705.4,1287.8 C706.6,1293.7 707.8,1306.4 708.0,1315.5 C708.1,1324.6 707.6,1341.9 706.7,1348.2 C705.7,1354.5 703.5,1356.1 701.7,1357.7 C699.8,1359.3 701.1,1362.0 694.1,1358.9 C687.1,1355.8 661.2,1345.3 655.1,1336.9 C649.0,1328.5 653.3,1311.8 653.2,1302.9 C653.1,1294.0 653.6,1284.0 654.5,1277.8 C655.3,1271.5 656.7,1264.5 658.9,1261.4Z" fill="#fff" stroke="#1a1a1a" stroke-width="1.3" />
<path d="M663.3,1270.8 C666.6,1272.7 684.5,1280.4 687.8,1284.7 C691.2,1288.9 688.0,1299.5 688.4,1302.9 C688.9,1306.4 690.5,1303.1 691.0,1310.5 C691.5,1317.8 692.1,1351.9 692.2,1358.3" fill="none" stroke="#1a1a1a" stroke-width="1.8" />
<path d="M663.3,1270.8 C663.0,1272.3 662.3,1279.1 661.4,1281.5 C660.5,1284.0 657.1,1284.5 656.4,1289.1 C655.6,1293.6 655.7,1309.3 655.7,1315.5 C655.7,1321.7 651.5,1329.9 656.4,1335.6 C661.2,1341.3 687.4,1355.3 692.2,1358.3" fill="none" stroke="#1a1a1a" stroke-width="1.3" />
<path d="M689.7,1267.1 C690.7,1268.5 695.7,1274.3 697.3,1277.8 C698.8,1281.2 700.4,1286.1 701.0,1292.9 C701.7,1299.6 702.4,1319.5 702.3,1328.1 C702.2,1336.6 700.7,1353.2 700.4,1357.0" fill="none" stroke="#1a1a1a" stroke-width="0.9" />
<path d="M692.9,1268.9 C693.8,1270.3 698.3,1275.7 699.8,1279.0 C701.2,1282.4 702.9,1287.6 703.5,1294.1 C704.2,1300.7 704.9,1319.9 704.8,1328.1 C704.7,1336.3 703.2,1352.1 702.9,1355.8" fill="none" stroke="#1a1a1a" stroke-width="0.8" />
<polygon points="671.5,1261.4 686.6,1266.4 684.0,1277.8 670.8,1272.7" fill="#666" stroke="#1a1a1a" stroke-width="1.0" />
<line x1="672.1" y1="1262.0" x2="671.5" y2="1272.1" stroke="#ccc" stroke-width="0.6" />
<line x1="674.9" y1="1262.9" x2="674.2" y2="1273.1" stroke="#ccc" stroke-width="0.6" />
<line x1="677.6" y1="1263.8" x2="677.0" y2="1274.1" stroke="#ccc" stroke-width="0.6" />
<line x1="680.4" y1="1264.7" x2="679.8" y2="1275.1" stroke="#ccc" stroke-width="0.6" />
<line x1="683.2" y1="1265.5" x2="682.5" y2="1276.1" stroke="#ccc" stroke-width="0.6" />
<path d="M658.6,1297.6 C659.3,1297.5 670.6,1303.1 671.2,1303.9 C671.8,1304.7 671.8,1313.1 671.2,1313.2 C670.6,1313.4 659.3,1307.7 658.6,1306.9 C658.0,1306.2 658.0,1297.8 658.6,1297.6Z" fill="#ddd" stroke="#1a1a1a" stroke-width="2.2" />
<path d="M660.8,1300.4 C661.2,1300.3 668.8,1304.2 669.2,1304.7 C669.6,1305.2 669.6,1310.4 669.2,1310.5 C668.8,1310.5 661.2,1306.7 660.8,1306.2 C660.3,1305.7 660.3,1300.5 660.8,1300.4Z" fill="#fff" stroke="#555" stroke-width="0.7" />
<path d="M673.7,1306.4 C674.4,1306.3 685.7,1312.0 686.3,1312.7 C686.9,1313.5 686.9,1321.9 686.3,1322.0 C685.7,1322.2 674.4,1316.5 673.7,1315.8 C673.1,1315.0 673.1,1306.6 673.7,1306.4Z" fill="#ddd" stroke="#1a1a1a" stroke-width="2.2" />
<path d="M675.9,1309.2 C676.3,1309.1 683.9,1313.0 684.3,1313.5 C684.7,1314.0 684.7,1319.2 684.3,1319.3 C683.9,1319.4 676.3,1315.5 675.9,1315.0 C675.4,1314.5 675.4,1309.3 675.9,1309.2Z" fill="#fff" stroke="#555" stroke-width="0.7" />
<path d="M658.6,1314.0 C659.3,1313.8 670.6,1319.5 671.2,1320.3 C671.8,1321.1 671.8,1329.4 671.2,1329.6 C670.6,1329.7 659.3,1324.1 658.6,1323.3 C658.0,1322.5 658.0,1314.1 658.6,1314.0Z" fill="#ddd" stroke="#1a1a1a" stroke-width="2.2" />
<path d="M660.8,1316.8 C661.2,1316.7 668.8,1320.5 669.2,1321.0 C669.6,1321.5 669.6,1326.7 669.2,1326.8 C668.8,1326.9 661.2,1323.1 660.8,1322.5 C660.3,1322.0 660.3,1316.8 660.8,1316.8Z" fill="#fff" stroke="#555" stroke-width="0.7" />
<path d="M673.7,1323.4 C674.4,1323.3 685.7,1328.9 686.3,1329.7 C686.9,1330.5 686.9,1338.9 686.3,1339.0 C685.7,1339.2 674.4,1333.5 673.7,1332.7 C673.1,1332.0 673.1,1323.6 673.7,1323.4Z" fill="#ddd" stroke="#1a1a1a" stroke-width="2.2" />
<path d="M675.9,1326.2 C676.3,1326.1 683.9,1330.0 684.3,1330.5 C684.7,1331.0 684.7,1336.2 684.3,1336.3 C683.9,1336.3 676.3,1332.5 675.9,1332.0 C675.4,1331.5 675.4,1326.3 675.9,1326.2Z" fill="#fff" stroke="#555" stroke-width="0.7" />
<path d="M671.5,1348.2 C671.5,1347.2 671.8,1341.8 672.1,1340.7 C672.4,1339.6 673.6,1338.9 674.0,1340.0 C674.4,1341.1 675.1,1347.7 675.2,1348.8" fill="none" stroke="#1a1a1a" stroke-width="1.0" />
<ellipse cx="749" cy="1324" rx="27.5" ry="48.5" transform="rotate(-15 749 1324)" fill="#fff" stroke="#111" stroke-width="1.6"/>
<ellipse cx="745.7" cy="1287.2" rx="4.8" ry="3.3" transform="rotate(35 745.7 1287.2)" fill="#fff" stroke="#111" stroke-width="1"/>
<ellipse cx="735" cy="1316.1" rx="4.8" ry="6.6" transform="rotate(-25 735 1316.1)" fill="#fff" stroke="#111" stroke-width="1.7"/>
<ellipse cx="751.4" cy="1326.8" rx="4.8" ry="6.6" transform="rotate(-25 751.4 1326.8)" fill="#fff" stroke="#111" stroke-width="1.7"/>
<ellipse cx="735" cy="1333.1" rx="4.8" ry="6.6" transform="rotate(-25 735 1333.1)" fill="#fff" stroke="#111" stroke-width="1.7"/>
<ellipse cx="752" cy="1344.4" rx="4.8" ry="6.6" transform="rotate(-25 752 1344.4)" fill="#fff" stroke="#111" stroke-width="1.7"/>
<path d="M730.6,1348.2 Q745,1356 772.1,1356.5" fill="none" stroke="#1a1a1a" stroke-width="0.9" />
<ellipse cx="745.1" cy="1359.5" rx="4.2" ry="2.3" transform="rotate(35 745.1 1359.5)" fill="#fff" stroke="#111" stroke-width="1.4"/>
</svg></body></html>
